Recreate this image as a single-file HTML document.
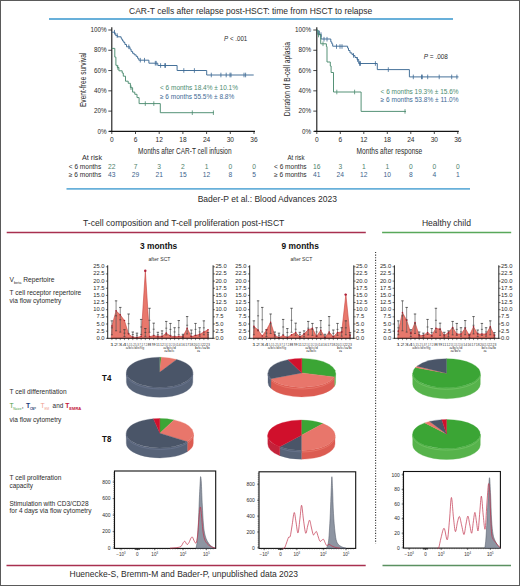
<!DOCTYPE html>
<html><head><meta charset="utf-8"><style>
html,body{margin:0;padding:0;background:#fff;}
svg{display:block;font-family:"Liberation Sans", sans-serif;}
</style></head><body>
<svg width="520" height="586" viewBox="0 0 520 586">
<rect x="0" y="0" width="520" height="586" fill="#fff"/>
<text x="129" y="13.8" font-size="9" fill="#2b2b2b" textLength="243.3" lengthAdjust="spacingAndGlyphs">CAR-T cells after relapse post-HSCT: time from HSCT to relapse</text>
<line x1="49" y1="19" x2="453" y2="19" stroke="#68b0da" stroke-width="1.8"/>
<line x1="111.8" y1="27.2" x2="111.8" y2="131.9" stroke="#151515" stroke-width="1.1"/>
<line x1="108.3" y1="131.4" x2="111.8" y2="131.4" stroke="#1a1a1a" stroke-width="0.8"/>
<text x="106.5" y="133.6" font-size="6.3" fill="#2b2b2b" text-anchor="end">0%</text>
<line x1="108.3" y1="111.12" x2="111.8" y2="111.12" stroke="#1a1a1a" stroke-width="0.8"/>
<text x="106.5" y="113.32000000000001" font-size="6.3" fill="#2b2b2b" text-anchor="end">20%</text>
<line x1="108.3" y1="90.84" x2="111.8" y2="90.84" stroke="#1a1a1a" stroke-width="0.8"/>
<text x="106.5" y="93.04" font-size="6.3" fill="#2b2b2b" text-anchor="end">40%</text>
<line x1="108.3" y1="70.56" x2="111.8" y2="70.56" stroke="#1a1a1a" stroke-width="0.8"/>
<text x="106.5" y="72.76" font-size="6.3" fill="#2b2b2b" text-anchor="end">60%</text>
<line x1="108.3" y1="50.28" x2="111.8" y2="50.28" stroke="#1a1a1a" stroke-width="0.8"/>
<text x="106.5" y="52.480000000000004" font-size="6.3" fill="#2b2b2b" text-anchor="end">80%</text>
<line x1="108.3" y1="30.0" x2="111.8" y2="30.0" stroke="#1a1a1a" stroke-width="0.8"/>
<text x="106.5" y="32.2" font-size="6.3" fill="#2b2b2b" text-anchor="end">100%</text>
<line x1="109.3" y1="131.4" x2="255.0" y2="131.4" stroke="#151515" stroke-width="1.1"/>
<line x1="111.8" y1="131.4" x2="111.8" y2="134.0" stroke="#1a1a1a" stroke-width="0.8"/>
<text x="111.8" y="142.4" font-size="6.6" fill="#2b2b2b" text-anchor="middle">0</text>
<line x1="135.5" y1="131.4" x2="135.5" y2="134.0" stroke="#1a1a1a" stroke-width="0.8"/>
<text x="135.5" y="142.4" font-size="6.6" fill="#2b2b2b" text-anchor="middle">6</text>
<line x1="159.2" y1="131.4" x2="159.2" y2="134.0" stroke="#1a1a1a" stroke-width="0.8"/>
<text x="159.2" y="142.4" font-size="6.6" fill="#2b2b2b" text-anchor="middle">12</text>
<line x1="182.89999999999998" y1="131.4" x2="182.89999999999998" y2="134.0" stroke="#1a1a1a" stroke-width="0.8"/>
<text x="182.89999999999998" y="142.4" font-size="6.6" fill="#2b2b2b" text-anchor="middle">18</text>
<line x1="206.6" y1="131.4" x2="206.6" y2="134.0" stroke="#1a1a1a" stroke-width="0.8"/>
<text x="206.6" y="142.4" font-size="6.6" fill="#2b2b2b" text-anchor="middle">24</text>
<line x1="230.3" y1="131.4" x2="230.3" y2="134.0" stroke="#1a1a1a" stroke-width="0.8"/>
<text x="230.3" y="142.4" font-size="6.6" fill="#2b2b2b" text-anchor="middle">30</text>
<line x1="254.0" y1="131.4" x2="254.0" y2="134.0" stroke="#1a1a1a" stroke-width="0.8"/>
<text x="254.0" y="142.4" font-size="6.6" fill="#2b2b2b" text-anchor="middle">36</text>
<text x="138.1" y="154.4" font-size="8.8" fill="#2b2b2b" textLength="93.5" lengthAdjust="spacingAndGlyphs">Months after CAR-T cell infusion</text>
<text transform="translate(86.3,79.8) rotate(-90)" x="0" y="0" font-size="8.4" fill="#2b2b2b" text-anchor="middle" textLength="54.5" lengthAdjust="spacingAndGlyphs">Event-free survival</text>
<path d="M111.80,32.20 L114.90,32.20 L114.90,33.70 L115.70,33.70 L115.70,35.60 L117.60,35.60 L117.60,36.80 L121.10,36.80 L121.10,38.30 L121.80,38.30 L121.80,39.50 L122.60,39.50 L122.60,41.00 L123.80,41.00 L123.80,42.50 L124.90,42.50 L124.90,44.50 L126.50,44.50 L126.50,46.80 L129.90,46.80 L129.90,49.10 L131.10,49.10 L131.10,51.40 L132.60,51.40 L132.60,53.30 L134.20,53.30 L134.20,54.80 L136.10,54.80 L136.10,56.40 L137.60,56.40 L137.60,58.30 L138.80,58.30 L138.80,60.20 L148.90,60.20 L148.90,63.20 L157.80,63.20 L157.80,65.50 L177.10,65.50 L177.10,70.50 L206.70,70.50 L206.70,75.00 L253.70,75.00" fill="none" stroke="#3d6a95" stroke-width="0.95" stroke-linejoin="miter"/>
<line x1="114.5" y1="29.900000000000002" x2="114.5" y2="34.5" stroke="#3d6a95" stroke-width="0.8"/>
<line x1="117.2" y1="33.300000000000004" x2="117.2" y2="37.9" stroke="#3d6a95" stroke-width="0.8"/>
<line x1="128.8" y1="44.5" x2="128.8" y2="49.099999999999994" stroke="#3d6a95" stroke-width="0.8"/>
<line x1="140.3" y1="57.900000000000006" x2="140.3" y2="62.5" stroke="#3d6a95" stroke-width="0.8"/>
<line x1="144.5" y1="57.900000000000006" x2="144.5" y2="62.5" stroke="#3d6a95" stroke-width="0.8"/>
<line x1="155.3" y1="60.900000000000006" x2="155.3" y2="65.5" stroke="#3d6a95" stroke-width="0.8"/>
<line x1="156.2" y1="60.900000000000006" x2="156.2" y2="65.5" stroke="#3d6a95" stroke-width="0.8"/>
<line x1="160.6" y1="63.2" x2="160.6" y2="67.8" stroke="#3d6a95" stroke-width="0.8"/>
<line x1="164.8" y1="63.2" x2="164.8" y2="67.8" stroke="#3d6a95" stroke-width="0.8"/>
<line x1="165.5" y1="63.2" x2="165.5" y2="67.8" stroke="#3d6a95" stroke-width="0.8"/>
<line x1="183.8" y1="68.2" x2="183.8" y2="72.8" stroke="#3d6a95" stroke-width="0.8"/>
<line x1="194.4" y1="68.2" x2="194.4" y2="72.8" stroke="#3d6a95" stroke-width="0.8"/>
<line x1="211.3" y1="72.7" x2="211.3" y2="77.3" stroke="#3d6a95" stroke-width="0.8"/>
<line x1="220.9" y1="72.7" x2="220.9" y2="77.3" stroke="#3d6a95" stroke-width="0.8"/>
<line x1="226.2" y1="72.7" x2="226.2" y2="77.3" stroke="#3d6a95" stroke-width="0.8"/>
<line x1="230" y1="72.7" x2="230" y2="77.3" stroke="#3d6a95" stroke-width="0.8"/>
<line x1="231" y1="72.7" x2="231" y2="77.3" stroke="#3d6a95" stroke-width="0.8"/>
<line x1="244" y1="72.7" x2="244" y2="77.3" stroke="#3d6a95" stroke-width="0.8"/>
<line x1="245.6" y1="72.7" x2="245.6" y2="77.3" stroke="#3d6a95" stroke-width="0.8"/>
<path d="M111.80,48.40 L114.80,48.40 L114.80,57.10 L115.90,57.10 L115.90,65.30 L117.30,65.30 L117.30,67.50 L118.90,67.50 L118.90,70.80 L122.20,70.80 L122.20,73.00 L123.30,73.00 L123.30,76.20 L125.50,76.20 L125.50,81.20 L128.20,81.20 L128.20,83.30 L130.40,83.30 L130.40,87.70 L132.60,87.70 L132.60,92.10 L134.80,92.10 L134.80,94.30 L137.00,94.30 L137.00,97.60 L139.10,97.60 L139.10,103.60 L160.30,103.60 L160.30,112.70 L213.80,112.70" fill="none" stroke="#4c8c70" stroke-width="0.95" stroke-linejoin="miter"/>
<line x1="117.8" y1="65.2" x2="117.8" y2="69.8" stroke="#4c8c70" stroke-width="0.8"/>
<line x1="131" y1="85.4" x2="131" y2="90.0" stroke="#4c8c70" stroke-width="0.8"/>
<line x1="145.3" y1="101.3" x2="145.3" y2="105.89999999999999" stroke="#4c8c70" stroke-width="0.8"/>
<line x1="153.8" y1="101.3" x2="153.8" y2="105.89999999999999" stroke="#4c8c70" stroke-width="0.8"/>
<line x1="192.3" y1="110.4" x2="192.3" y2="115.0" stroke="#4c8c70" stroke-width="0.8"/>
<line x1="213.4" y1="110.4" x2="213.4" y2="115.0" stroke="#4c8c70" stroke-width="0.8"/>
<text x="224.1" y="40.6" font-size="6.9" fill="#2b2b2b" textLength="23.2" lengthAdjust="spacingAndGlyphs"><tspan font-style="italic">P</tspan> &lt; .001</text>
<text x="160" y="89.5" font-size="6.9" fill="#4c8c70" textLength="78" lengthAdjust="spacingAndGlyphs">&lt; 6 months  18.4% ± 10.1%</text>
<text x="160" y="99.0" font-size="6.9" fill="#3d6a95" textLength="74.2" lengthAdjust="spacingAndGlyphs">≥ 6 months  55.5% ± 8.8%</text>
<text x="82" y="160" font-size="6.6" fill="#2b2b2b" textLength="20" lengthAdjust="spacingAndGlyphs">At risk</text>
<text x="68.8" y="168.5" font-size="6.6" fill="#2b2b2b" textLength="32.4" lengthAdjust="spacingAndGlyphs">&lt; 6 months</text>
<text x="68.8" y="176.6" font-size="6.6" fill="#2b2b2b" textLength="32.4" lengthAdjust="spacingAndGlyphs">≥ 6 months</text>
<text x="111.8" y="168.5" font-size="6.7" fill="#4f7f6c" text-anchor="middle">22</text>
<text x="111.8" y="176.7" font-size="6.7" fill="#3c5f8c" text-anchor="middle">43</text>
<text x="135.5" y="168.5" font-size="6.7" fill="#4f7f6c" text-anchor="middle">7</text>
<text x="135.5" y="176.7" font-size="6.7" fill="#3c5f8c" text-anchor="middle">29</text>
<text x="159.2" y="168.5" font-size="6.7" fill="#4f7f6c" text-anchor="middle">3</text>
<text x="159.2" y="176.7" font-size="6.7" fill="#3c5f8c" text-anchor="middle">21</text>
<text x="182.89999999999998" y="168.5" font-size="6.7" fill="#4f7f6c" text-anchor="middle">2</text>
<text x="182.89999999999998" y="176.7" font-size="6.7" fill="#3c5f8c" text-anchor="middle">15</text>
<text x="206.6" y="168.5" font-size="6.7" fill="#4f7f6c" text-anchor="middle">1</text>
<text x="206.6" y="176.7" font-size="6.7" fill="#3c5f8c" text-anchor="middle">12</text>
<text x="230.3" y="168.5" font-size="6.7" fill="#4f7f6c" text-anchor="middle">0</text>
<text x="230.3" y="176.7" font-size="6.7" fill="#3c5f8c" text-anchor="middle">8</text>
<text x="254.0" y="168.5" font-size="6.7" fill="#4f7f6c" text-anchor="middle">0</text>
<text x="254.0" y="176.7" font-size="6.7" fill="#3c5f8c" text-anchor="middle">5</text>
<line x1="316.8" y1="27.2" x2="316.8" y2="131.9" stroke="#151515" stroke-width="1.1"/>
<line x1="313.3" y1="131.4" x2="316.8" y2="131.4" stroke="#1a1a1a" stroke-width="0.8"/>
<text x="311.0" y="133.6" font-size="6.3" fill="#2b2b2b" text-anchor="end">0%</text>
<line x1="313.3" y1="111.12" x2="316.8" y2="111.12" stroke="#1a1a1a" stroke-width="0.8"/>
<text x="311.0" y="113.32000000000001" font-size="6.3" fill="#2b2b2b" text-anchor="end">20%</text>
<line x1="313.3" y1="90.84" x2="316.8" y2="90.84" stroke="#1a1a1a" stroke-width="0.8"/>
<text x="311.0" y="93.04" font-size="6.3" fill="#2b2b2b" text-anchor="end">40%</text>
<line x1="313.3" y1="70.56" x2="316.8" y2="70.56" stroke="#1a1a1a" stroke-width="0.8"/>
<text x="311.0" y="72.76" font-size="6.3" fill="#2b2b2b" text-anchor="end">60%</text>
<line x1="313.3" y1="50.28" x2="316.8" y2="50.28" stroke="#1a1a1a" stroke-width="0.8"/>
<text x="311.0" y="52.480000000000004" font-size="6.3" fill="#2b2b2b" text-anchor="end">80%</text>
<line x1="313.3" y1="30.0" x2="316.8" y2="30.0" stroke="#1a1a1a" stroke-width="0.8"/>
<text x="311.0" y="32.2" font-size="6.3" fill="#2b2b2b" text-anchor="end">100%</text>
<line x1="314.3" y1="131.4" x2="458.8" y2="131.4" stroke="#151515" stroke-width="1.1"/>
<line x1="316.8" y1="131.4" x2="316.8" y2="134.0" stroke="#1a1a1a" stroke-width="0.8"/>
<text x="316.8" y="142.4" font-size="6.6" fill="#2b2b2b" text-anchor="middle">0</text>
<line x1="340.3" y1="131.4" x2="340.3" y2="134.0" stroke="#1a1a1a" stroke-width="0.8"/>
<text x="340.3" y="142.4" font-size="6.6" fill="#2b2b2b" text-anchor="middle">6</text>
<line x1="363.8" y1="131.4" x2="363.8" y2="134.0" stroke="#1a1a1a" stroke-width="0.8"/>
<text x="363.8" y="142.4" font-size="6.6" fill="#2b2b2b" text-anchor="middle">12</text>
<line x1="387.3" y1="131.4" x2="387.3" y2="134.0" stroke="#1a1a1a" stroke-width="0.8"/>
<text x="387.3" y="142.4" font-size="6.6" fill="#2b2b2b" text-anchor="middle">18</text>
<line x1="410.8" y1="131.4" x2="410.8" y2="134.0" stroke="#1a1a1a" stroke-width="0.8"/>
<text x="410.8" y="142.4" font-size="6.6" fill="#2b2b2b" text-anchor="middle">24</text>
<line x1="434.3" y1="131.4" x2="434.3" y2="134.0" stroke="#1a1a1a" stroke-width="0.8"/>
<text x="434.3" y="142.4" font-size="6.6" fill="#2b2b2b" text-anchor="middle">30</text>
<line x1="457.8" y1="131.4" x2="457.8" y2="134.0" stroke="#1a1a1a" stroke-width="0.8"/>
<text x="457.8" y="142.4" font-size="6.6" fill="#2b2b2b" text-anchor="middle">36</text>
<text x="356.6" y="154.4" font-size="8.8" fill="#2b2b2b" textLength="65.7" lengthAdjust="spacingAndGlyphs">Months after response</text>
<text transform="translate(289.8,79.2) rotate(-90)" x="0" y="0" font-size="8.4" fill="#2b2b2b" text-anchor="middle" textLength="74.3" lengthAdjust="spacingAndGlyphs">Duration of B-cell aplasia</text>
<path d="M316.80,30.20 L318.00,30.20 L318.00,34.40 L321.10,34.40 L321.10,39.00 L330.80,39.00 L330.80,41.90 L331.80,41.90 L331.80,43.80 L332.70,43.80 L332.70,46.20 L347.60,46.20 L347.60,48.10 L348.50,48.10 L348.50,50.50 L350.00,50.50 L350.00,52.90 L351.90,52.90 L351.90,54.40 L353.30,54.40 L353.30,55.60 L355.00,55.60 L355.00,57.50 L357.00,57.50 L357.00,59.50 L358.70,59.50 L358.70,63.50 L377.30,63.50 L377.30,69.60 L409.40,69.60 L409.40,76.90 L458.50,76.90" fill="none" stroke="#3d6a95" stroke-width="0.95" stroke-linejoin="miter"/>
<line x1="318.2" y1="30.7" x2="318.2" y2="35.3" stroke="#3d6a95" stroke-width="0.8"/>
<line x1="319.5" y1="30.7" x2="319.5" y2="35.3" stroke="#3d6a95" stroke-width="0.8"/>
<line x1="321" y1="32.300000000000004" x2="321" y2="36.9" stroke="#3d6a95" stroke-width="0.8"/>
<line x1="324" y1="36.900000000000006" x2="324" y2="41.5" stroke="#3d6a95" stroke-width="0.8"/>
<line x1="327" y1="36.900000000000006" x2="327" y2="41.5" stroke="#3d6a95" stroke-width="0.8"/>
<line x1="336.5" y1="44.2" x2="336.5" y2="48.8" stroke="#3d6a95" stroke-width="0.8"/>
<line x1="340" y1="44.2" x2="340" y2="48.8" stroke="#3d6a95" stroke-width="0.8"/>
<line x1="342" y1="44.2" x2="342" y2="48.8" stroke="#3d6a95" stroke-width="0.8"/>
<line x1="353.5" y1="53.1" x2="353.5" y2="57.699999999999996" stroke="#3d6a95" stroke-width="0.8"/>
<line x1="357.5" y1="57.2" x2="357.5" y2="61.8" stroke="#3d6a95" stroke-width="0.8"/>
<line x1="359.5" y1="61.2" x2="359.5" y2="65.8" stroke="#3d6a95" stroke-width="0.8"/>
<line x1="360.5" y1="61.2" x2="360.5" y2="65.8" stroke="#3d6a95" stroke-width="0.8"/>
<line x1="375.4" y1="61.2" x2="375.4" y2="65.8" stroke="#3d6a95" stroke-width="0.8"/>
<line x1="388.3" y1="67.3" x2="388.3" y2="71.89999999999999" stroke="#3d6a95" stroke-width="0.8"/>
<line x1="413.3" y1="74.60000000000001" x2="413.3" y2="79.2" stroke="#3d6a95" stroke-width="0.8"/>
<line x1="421.5" y1="74.60000000000001" x2="421.5" y2="79.2" stroke="#3d6a95" stroke-width="0.8"/>
<line x1="422.3" y1="74.60000000000001" x2="422.3" y2="79.2" stroke="#3d6a95" stroke-width="0.8"/>
<line x1="427.7" y1="74.60000000000001" x2="427.7" y2="79.2" stroke="#3d6a95" stroke-width="0.8"/>
<line x1="439.2" y1="74.60000000000001" x2="439.2" y2="79.2" stroke="#3d6a95" stroke-width="0.8"/>
<line x1="451.7" y1="74.60000000000001" x2="451.7" y2="79.2" stroke="#3d6a95" stroke-width="0.8"/>
<line x1="456.9" y1="74.60000000000001" x2="456.9" y2="79.2" stroke="#3d6a95" stroke-width="0.8"/>
<path d="M316.80,30.20 L318.00,30.20 L318.00,34.40 L320.70,34.40 L320.70,43.80 L326.40,43.80 L326.40,46.50 L327.00,46.50 L327.00,62.00 L330.30,62.00 L330.30,66.00 L331.10,66.00 L331.10,72.50 L333.50,72.50 L333.50,92.00 L361.10,92.00 L361.10,111.40 L406.00,111.40" fill="none" stroke="#4c8c70" stroke-width="0.95" stroke-linejoin="miter"/>
<line x1="318.5" y1="32.7" x2="318.5" y2="37.3" stroke="#4c8c70" stroke-width="0.8"/>
<line x1="323" y1="41.5" x2="323" y2="46.099999999999994" stroke="#4c8c70" stroke-width="0.8"/>
<line x1="336.8" y1="89.7" x2="336.8" y2="94.3" stroke="#4c8c70" stroke-width="0.8"/>
<line x1="354.6" y1="89.7" x2="354.6" y2="94.3" stroke="#4c8c70" stroke-width="0.8"/>
<line x1="405" y1="109.10000000000001" x2="405" y2="113.7" stroke="#4c8c70" stroke-width="0.8"/>
<text x="423.8" y="58.8" font-size="6.9" fill="#2b2b2b" textLength="24.1" lengthAdjust="spacingAndGlyphs"><tspan font-style="italic">P</tspan> = .008</text>
<text x="380.6" y="93.6" font-size="6.9" fill="#4c8c70" textLength="77.9" lengthAdjust="spacingAndGlyphs">&lt; 6 months  19.3% ± 15.6%</text>
<text x="380.6" y="102.0" font-size="6.9" fill="#3d6a95" textLength="77.9" lengthAdjust="spacingAndGlyphs">≥ 6 months  53.8% ± 11.0%</text>
<text x="287.5" y="159.5" font-size="6.6" fill="#2b2b2b" textLength="17" lengthAdjust="spacingAndGlyphs">At risk</text>
<text x="274" y="168.5" font-size="6.6" fill="#2b2b2b" textLength="32.6" lengthAdjust="spacingAndGlyphs">&lt; 6 months</text>
<text x="274" y="176.8" font-size="6.6" fill="#2b2b2b" textLength="32.6" lengthAdjust="spacingAndGlyphs">≥ 6 months</text>
<text x="316.8" y="168.5" font-size="6.7" fill="#4f7f6c" text-anchor="middle">16</text>
<text x="316.8" y="176.7" font-size="6.7" fill="#3c5f8c" text-anchor="middle">41</text>
<text x="340.3" y="168.5" font-size="6.7" fill="#4f7f6c" text-anchor="middle">3</text>
<text x="340.3" y="176.7" font-size="6.7" fill="#3c5f8c" text-anchor="middle">24</text>
<text x="363.8" y="168.5" font-size="6.7" fill="#4f7f6c" text-anchor="middle">1</text>
<text x="363.8" y="176.7" font-size="6.7" fill="#3c5f8c" text-anchor="middle">12</text>
<text x="387.3" y="168.5" font-size="6.7" fill="#4f7f6c" text-anchor="middle">1</text>
<text x="387.3" y="176.7" font-size="6.7" fill="#3c5f8c" text-anchor="middle">10</text>
<text x="410.8" y="168.5" font-size="6.7" fill="#4f7f6c" text-anchor="middle">0</text>
<text x="410.8" y="176.7" font-size="6.7" fill="#3c5f8c" text-anchor="middle">8</text>
<text x="434.3" y="168.5" font-size="6.7" fill="#4f7f6c" text-anchor="middle">0</text>
<text x="434.3" y="176.7" font-size="6.7" fill="#3c5f8c" text-anchor="middle">4</text>
<text x="457.8" y="168.5" font-size="6.7" fill="#4f7f6c" text-anchor="middle">0</text>
<text x="457.8" y="176.7" font-size="6.7" fill="#3c5f8c" text-anchor="middle">1</text>
<line x1="66.5" y1="188.9" x2="470" y2="188.9" stroke="#68b0da" stroke-width="1.8"/>
<text x="197.7" y="201.7" font-size="8.6" fill="#2b2b2b" textLength="139.2" lengthAdjust="spacingAndGlyphs">Bader-P et al.: Blood Advances 2023</text>
<text x="83" y="225.8" font-size="8.6" fill="#2b2b2b" textLength="201.4" lengthAdjust="spacingAndGlyphs">T-cell composition and T-cell proliferation post-HSCT</text>
<line x1="6.7" y1="232.5" x2="365.8" y2="232.5" stroke="#a8304f" stroke-width="1.6"/>
<text x="421.9" y="226" font-size="8.6" fill="#2b2b2b" textLength="49" lengthAdjust="spacingAndGlyphs">Healthy child</text>
<line x1="382.1" y1="232.5" x2="511.2" y2="232.5" stroke="#58a85a" stroke-width="1.6"/>
<text x="140" y="248.5" font-size="8.6" fill="#111" font-weight="bold" textLength="37.2" lengthAdjust="spacingAndGlyphs">3 months</text>
<text x="281.5" y="248.8" font-size="8.6" fill="#111" font-weight="bold" textLength="37.4" lengthAdjust="spacingAndGlyphs">9 months</text>
<text x="148.5" y="261.2" font-size="4.6" fill="#333" textLength="22" lengthAdjust="spacingAndGlyphs">after SCT</text>
<text x="290.5" y="261.2" font-size="4.6" fill="#333" textLength="21.8" lengthAdjust="spacingAndGlyphs">after SCT</text>
<line x1="375.6" y1="252" x2="375.6" y2="543.6" stroke="#333" stroke-width="1.1" stroke-dasharray="1.1,1.5"/>
<text x="9.5" y="281.8" font-size="6.4" fill="#2b2b2b" textLength="45" lengthAdjust="spacingAndGlyphs">V<tspan font-size="3.6" dy="2.3">beta</tspan><tspan dy="-2.3"> Repertoire</tspan></text>
<text x="9.5" y="294.9" font-size="6.3" fill="#2b2b2b" textLength="71.8" lengthAdjust="spacingAndGlyphs">T cell receptor repertoire</text>
<text x="9.5" y="302.7" font-size="6.3" fill="#2b2b2b" textLength="51.9" lengthAdjust="spacingAndGlyphs">via flow cytometry</text>
<text x="102.1" y="380.6" font-size="8.2" fill="#111" font-weight="bold" textLength="9.2" lengthAdjust="spacingAndGlyphs">T4</text>
<text x="102.1" y="441.5" font-size="8.2" fill="#111" font-weight="bold" textLength="9.2" lengthAdjust="spacingAndGlyphs">T8</text>
<text x="9.5" y="393.5" font-size="6.3" fill="#2b2b2b" textLength="57.1" lengthAdjust="spacingAndGlyphs">T cell differentiation</text>
<text x="9.5" y="407.7" font-size="6.8" fill="#4a9e48">T</text>
<text x="13.3" y="410.09999999999997" font-size="3.9" fill="#4a9e48" textLength="8.2" lengthAdjust="spacingAndGlyphs">Naive</text>
<text x="21.7" y="407.7" font-size="6.8" fill="#2b2b2b">,</text>
<text x="25.9" y="407.7" font-size="6.8" fill="#1a3d7a" font-weight="bold">T</text>
<text x="29.9" y="410.09999999999997" font-size="4.0" fill="#1a3d7a" font-weight="bold" textLength="4.6" lengthAdjust="spacingAndGlyphs">CM</text>
<text x="34.6" y="407.7" font-size="6.8" fill="#2b2b2b">,</text>
<text x="40.5" y="407.7" font-size="6.8" fill="#efa090">T</text>
<text x="44.4" y="410.09999999999997" font-size="3.9" fill="#efa090" textLength="4.8" lengthAdjust="spacingAndGlyphs">EM</text>
<text x="52.6" y="407.7" font-size="6.8" fill="#2b2b2b" textLength="10.6" lengthAdjust="spacingAndGlyphs">and</text>
<text x="65.2" y="407.7" font-size="6.8" fill="#c4143c" font-weight="bold">T</text>
<text x="69.3" y="410.09999999999997" font-size="4.0" fill="#c4143c" font-weight="bold" textLength="12" lengthAdjust="spacingAndGlyphs">EMRA</text>
<text x="9.5" y="421.5" font-size="6.3" fill="#2b2b2b" textLength="51.9" lengthAdjust="spacingAndGlyphs">via flow cytometry</text>
<text x="9.5" y="480.4" font-size="6.3" fill="#2b2b2b" textLength="51.9" lengthAdjust="spacingAndGlyphs">T cell proliferation</text>
<text x="9.5" y="488.0" font-size="6.3" fill="#2b2b2b" textLength="23.4" lengthAdjust="spacingAndGlyphs">capacity</text>
<text x="9.5" y="505.8" font-size="6.3" fill="#2b2b2b" textLength="79.1" lengthAdjust="spacingAndGlyphs">Stimulation with CD3/CD28</text>
<text x="9.5" y="513.3" font-size="6.3" fill="#2b2b2b" textLength="82" lengthAdjust="spacingAndGlyphs">for 4 days via flow cytometry</text>
<line x1="6.5" y1="565.5" x2="365.7" y2="565.5" stroke="#a8304f" stroke-width="1.6"/>
<line x1="382.5" y1="565.5" x2="511" y2="565.5" stroke="#5a9060" stroke-width="1.5"/>
<text x="69.5" y="577" font-size="8.6" fill="#2b2b2b" textLength="228.5" lengthAdjust="spacingAndGlyphs">Huenecke-S, Bremm-M and Bader-P, unpublished data 2023</text>
<path d="M111.30,338.30 L111.90,326.00 L116.08,310.84 L120.26,314.85 L124.44,320.57 L128.62,334.01 L132.80,337.16 L136.98,337.44 L141.16,336.30 L145.34,271.09 L149.52,336.58 L153.70,335.73 L157.88,336.30 L162.06,336.30 L166.24,333.15 L170.42,336.01 L174.60,336.87 L178.78,336.30 L182.96,336.30 L187.14,328.29 L191.32,336.58 L195.50,335.44 L199.68,334.30 L203.86,332.01 L208.04,329.72 L208.44,338.30Z" fill="#e8786c" stroke="#c8413e" stroke-width="0.6"/>
<line x1="111.9" y1="334.81080000000003" x2="111.9" y2="320.85400000000004" stroke="#5a5a5a" stroke-width="0.7"/>
<line x1="110.7" y1="320.85400000000004" x2="113.10000000000001" y2="320.85400000000004" stroke="#333" stroke-width="0.75"/>
<line x1="110.9" y1="327.8324" x2="112.9" y2="327.8324" stroke="#333" stroke-width="0.6"/>
<line x1="110.9" y1="334.81080000000003" x2="112.9" y2="334.81080000000003" stroke="#333" stroke-width="0.6"/>
<line x1="116.08000000000001" y1="330.8068" x2="116.08000000000001" y2="300.834" stroke="#5a5a5a" stroke-width="0.7"/>
<line x1="114.88000000000001" y1="300.834" x2="117.28000000000002" y2="300.834" stroke="#333" stroke-width="0.75"/>
<line x1="115.08000000000001" y1="315.8204" x2="117.08000000000001" y2="315.8204" stroke="#333" stroke-width="0.6"/>
<line x1="115.08000000000001" y1="330.8068" x2="117.08000000000001" y2="330.8068" stroke="#333" stroke-width="0.6"/>
<line x1="120.26" y1="332.1224" x2="120.26" y2="307.41200000000003" stroke="#5a5a5a" stroke-width="0.7"/>
<line x1="119.06" y1="307.41200000000003" x2="121.46000000000001" y2="307.41200000000003" stroke="#333" stroke-width="0.75"/>
<line x1="119.26" y1="319.7672" x2="121.26" y2="319.7672" stroke="#333" stroke-width="0.6"/>
<line x1="119.26" y1="332.1224" x2="121.26" y2="332.1224" stroke="#333" stroke-width="0.6"/>
<line x1="124.44" y1="336.584" x2="124.44" y2="329.72" stroke="#5a5a5a" stroke-width="0.7"/>
<line x1="123.24" y1="329.72" x2="125.64" y2="329.72" stroke="#333" stroke-width="0.75"/>
<line x1="123.44" y1="333.152" x2="125.44" y2="333.152" stroke="#333" stroke-width="0.6"/>
<line x1="123.44" y1="336.584" x2="125.44" y2="336.584" stroke="#333" stroke-width="0.6"/>
<line x1="128.62" y1="333.438" x2="128.62" y2="313.99" stroke="#5a5a5a" stroke-width="0.7"/>
<line x1="127.42" y1="313.99" x2="129.82" y2="313.99" stroke="#333" stroke-width="0.75"/>
<line x1="127.62" y1="323.714" x2="129.62" y2="323.714" stroke="#333" stroke-width="0.6"/>
<line x1="127.62" y1="333.438" x2="129.62" y2="333.438" stroke="#333" stroke-width="0.6"/>
<line x1="132.8" y1="337.0416" x2="132.8" y2="332.00800000000004" stroke="#5a5a5a" stroke-width="0.7"/>
<line x1="131.60000000000002" y1="332.00800000000004" x2="134.0" y2="332.00800000000004" stroke="#333" stroke-width="0.75"/>
<line x1="131.8" y1="334.5248" x2="133.8" y2="334.5248" stroke="#333" stroke-width="0.6"/>
<line x1="131.8" y1="337.0416" x2="133.8" y2="337.0416" stroke="#333" stroke-width="0.6"/>
<line x1="136.98000000000002" y1="337.2704" x2="136.98000000000002" y2="333.152" stroke="#5a5a5a" stroke-width="0.7"/>
<line x1="135.78000000000003" y1="333.152" x2="138.18" y2="333.152" stroke="#333" stroke-width="0.75"/>
<line x1="135.98000000000002" y1="335.2112" x2="137.98000000000002" y2="335.2112" stroke="#333" stroke-width="0.6"/>
<line x1="135.98000000000002" y1="337.2704" x2="137.98000000000002" y2="337.2704" stroke="#333" stroke-width="0.6"/>
<line x1="141.16" y1="334.5248" x2="141.16" y2="319.42400000000004" stroke="#5a5a5a" stroke-width="0.7"/>
<line x1="139.96" y1="319.42400000000004" x2="142.35999999999999" y2="319.42400000000004" stroke="#333" stroke-width="0.75"/>
<line x1="140.16" y1="326.9744" x2="142.16" y2="326.9744" stroke="#333" stroke-width="0.6"/>
<line x1="140.16" y1="334.5248" x2="142.16" y2="334.5248" stroke="#333" stroke-width="0.6"/>
<line x1="145.34" y1="336.3552" x2="145.34" y2="328.576" stroke="#5a5a5a" stroke-width="0.7"/>
<line x1="144.14000000000001" y1="328.576" x2="146.54" y2="328.576" stroke="#333" stroke-width="0.75"/>
<line x1="144.34" y1="332.4656" x2="146.34" y2="332.4656" stroke="#333" stroke-width="0.6"/>
<line x1="144.34" y1="336.3552" x2="146.34" y2="336.3552" stroke="#333" stroke-width="0.6"/>
<line x1="149.52" y1="332.294" x2="149.52" y2="308.27000000000004" stroke="#5a5a5a" stroke-width="0.7"/>
<line x1="148.32000000000002" y1="308.27000000000004" x2="150.72" y2="308.27000000000004" stroke="#333" stroke-width="0.75"/>
<line x1="148.52" y1="320.28200000000004" x2="150.52" y2="320.28200000000004" stroke="#333" stroke-width="0.6"/>
<line x1="148.52" y1="332.294" x2="150.52" y2="332.294" stroke="#333" stroke-width="0.6"/>
<line x1="153.7" y1="335.2684" x2="153.7" y2="323.142" stroke="#5a5a5a" stroke-width="0.7"/>
<line x1="152.5" y1="323.142" x2="154.89999999999998" y2="323.142" stroke="#333" stroke-width="0.75"/>
<line x1="152.7" y1="329.2052" x2="154.7" y2="329.2052" stroke="#333" stroke-width="0.6"/>
<line x1="152.7" y1="335.2684" x2="154.7" y2="335.2684" stroke="#333" stroke-width="0.6"/>
<line x1="157.88" y1="337.0988" x2="157.88" y2="332.294" stroke="#5a5a5a" stroke-width="0.7"/>
<line x1="156.68" y1="332.294" x2="159.07999999999998" y2="332.294" stroke="#333" stroke-width="0.75"/>
<line x1="156.88" y1="334.69640000000004" x2="158.88" y2="334.69640000000004" stroke="#333" stroke-width="0.6"/>
<line x1="156.88" y1="337.0988" x2="158.88" y2="337.0988" stroke="#333" stroke-width="0.6"/>
<line x1="162.06" y1="336.81280000000004" x2="162.06" y2="330.86400000000003" stroke="#5a5a5a" stroke-width="0.7"/>
<line x1="160.86" y1="330.86400000000003" x2="163.26" y2="330.86400000000003" stroke="#333" stroke-width="0.75"/>
<line x1="161.06" y1="333.83840000000004" x2="163.06" y2="333.83840000000004" stroke="#333" stroke-width="0.6"/>
<line x1="161.06" y1="336.81280000000004" x2="163.06" y2="336.81280000000004" stroke="#333" stroke-width="0.6"/>
<line x1="166.24" y1="334.9252" x2="166.24" y2="321.426" stroke="#5a5a5a" stroke-width="0.7"/>
<line x1="165.04000000000002" y1="321.426" x2="167.44" y2="321.426" stroke="#333" stroke-width="0.75"/>
<line x1="165.24" y1="328.17560000000003" x2="167.24" y2="328.17560000000003" stroke="#333" stroke-width="0.6"/>
<line x1="165.24" y1="334.9252" x2="167.24" y2="334.9252" stroke="#333" stroke-width="0.6"/>
<line x1="170.42000000000002" y1="335.3256" x2="170.42000000000002" y2="323.428" stroke="#5a5a5a" stroke-width="0.7"/>
<line x1="169.22000000000003" y1="323.428" x2="171.62" y2="323.428" stroke="#333" stroke-width="0.75"/>
<line x1="169.42000000000002" y1="329.3768" x2="171.42000000000002" y2="329.3768" stroke="#333" stroke-width="0.6"/>
<line x1="169.42000000000002" y1="335.3256" x2="171.42000000000002" y2="335.3256" stroke="#333" stroke-width="0.6"/>
<line x1="174.6" y1="336.1836" x2="174.6" y2="327.718" stroke="#5a5a5a" stroke-width="0.7"/>
<line x1="173.4" y1="327.718" x2="175.79999999999998" y2="327.718" stroke="#333" stroke-width="0.75"/>
<line x1="173.6" y1="331.9508" x2="175.6" y2="331.9508" stroke="#333" stroke-width="0.6"/>
<line x1="173.6" y1="336.1836" x2="175.6" y2="336.1836" stroke="#333" stroke-width="0.6"/>
<line x1="178.78" y1="334.7536" x2="178.78" y2="320.568" stroke="#5a5a5a" stroke-width="0.7"/>
<line x1="177.58" y1="320.568" x2="179.98" y2="320.568" stroke="#333" stroke-width="0.75"/>
<line x1="177.78" y1="327.6608" x2="179.78" y2="327.6608" stroke="#333" stroke-width="0.6"/>
<line x1="177.78" y1="334.7536" x2="179.78" y2="334.7536" stroke="#333" stroke-width="0.6"/>
<line x1="182.96" y1="337.49920000000003" x2="182.96" y2="334.296" stroke="#5a5a5a" stroke-width="0.7"/>
<line x1="181.76000000000002" y1="334.296" x2="184.16" y2="334.296" stroke="#333" stroke-width="0.75"/>
<line x1="181.96" y1="335.8976" x2="183.96" y2="335.8976" stroke="#333" stroke-width="0.6"/>
<line x1="181.96" y1="337.49920000000003" x2="183.96" y2="337.49920000000003" stroke="#333" stroke-width="0.6"/>
<line x1="187.14" y1="333.9528" x2="187.14" y2="316.564" stroke="#5a5a5a" stroke-width="0.7"/>
<line x1="185.94" y1="316.564" x2="188.33999999999997" y2="316.564" stroke="#333" stroke-width="0.75"/>
<line x1="186.14" y1="325.2584" x2="188.14" y2="325.2584" stroke="#333" stroke-width="0.6"/>
<line x1="186.14" y1="333.9528" x2="188.14" y2="333.9528" stroke="#333" stroke-width="0.6"/>
<line x1="191.32" y1="336.6412" x2="191.32" y2="330.00600000000003" stroke="#5a5a5a" stroke-width="0.7"/>
<line x1="190.12" y1="330.00600000000003" x2="192.51999999999998" y2="330.00600000000003" stroke="#333" stroke-width="0.75"/>
<line x1="190.32" y1="333.3236" x2="192.32" y2="333.3236" stroke="#333" stroke-width="0.6"/>
<line x1="190.32" y1="336.6412" x2="192.32" y2="336.6412" stroke="#333" stroke-width="0.6"/>
<line x1="195.5" y1="335.3256" x2="195.5" y2="323.428" stroke="#5a5a5a" stroke-width="0.7"/>
<line x1="194.3" y1="323.428" x2="196.7" y2="323.428" stroke="#333" stroke-width="0.75"/>
<line x1="194.5" y1="329.3768" x2="196.5" y2="329.3768" stroke="#333" stroke-width="0.6"/>
<line x1="194.5" y1="335.3256" x2="196.5" y2="335.3256" stroke="#333" stroke-width="0.6"/>
<line x1="199.68" y1="336.1836" x2="199.68" y2="327.718" stroke="#5a5a5a" stroke-width="0.7"/>
<line x1="198.48000000000002" y1="327.718" x2="200.88" y2="327.718" stroke="#333" stroke-width="0.75"/>
<line x1="198.68" y1="331.9508" x2="200.68" y2="331.9508" stroke="#333" stroke-width="0.6"/>
<line x1="198.68" y1="336.1836" x2="200.68" y2="336.1836" stroke="#333" stroke-width="0.6"/>
<line x1="203.86" y1="334.81080000000003" x2="203.86" y2="320.85400000000004" stroke="#5a5a5a" stroke-width="0.7"/>
<line x1="202.66000000000003" y1="320.85400000000004" x2="205.06" y2="320.85400000000004" stroke="#333" stroke-width="0.75"/>
<line x1="202.86" y1="327.8324" x2="204.86" y2="327.8324" stroke="#333" stroke-width="0.6"/>
<line x1="202.86" y1="334.81080000000003" x2="204.86" y2="334.81080000000003" stroke="#333" stroke-width="0.6"/>
<line x1="208.04" y1="337.156" x2="208.04" y2="332.58" stroke="#5a5a5a" stroke-width="0.7"/>
<line x1="206.84" y1="332.58" x2="209.23999999999998" y2="332.58" stroke="#333" stroke-width="0.75"/>
<line x1="207.04" y1="334.868" x2="209.04" y2="334.868" stroke="#333" stroke-width="0.6"/>
<line x1="207.04" y1="337.156" x2="209.04" y2="337.156" stroke="#333" stroke-width="0.6"/>
<circle cx="111.90" cy="326.00" r="0.8" fill="#a81c2c"/>
<circle cx="116.08" cy="310.84" r="0.8" fill="#a81c2c"/>
<circle cx="120.26" cy="314.85" r="0.8" fill="#a81c2c"/>
<circle cx="124.44" cy="320.57" r="0.8" fill="#a81c2c"/>
<circle cx="128.62" cy="334.01" r="0.8" fill="#a81c2c"/>
<circle cx="132.80" cy="337.16" r="0.8" fill="#a81c2c"/>
<circle cx="136.98" cy="337.44" r="0.8" fill="#a81c2c"/>
<circle cx="141.16" cy="336.30" r="0.8" fill="#a81c2c"/>
<circle cx="145.34" cy="271.09" r="0.8" fill="#a81c2c"/>
<circle cx="149.52" cy="336.58" r="0.8" fill="#a81c2c"/>
<circle cx="153.70" cy="335.73" r="0.8" fill="#a81c2c"/>
<circle cx="157.88" cy="336.30" r="0.8" fill="#a81c2c"/>
<circle cx="162.06" cy="336.30" r="0.8" fill="#a81c2c"/>
<circle cx="166.24" cy="333.15" r="0.8" fill="#a81c2c"/>
<circle cx="170.42" cy="336.01" r="0.8" fill="#a81c2c"/>
<circle cx="174.60" cy="336.87" r="0.8" fill="#a81c2c"/>
<circle cx="178.78" cy="336.30" r="0.8" fill="#a81c2c"/>
<circle cx="182.96" cy="336.30" r="0.8" fill="#a81c2c"/>
<circle cx="187.14" cy="328.29" r="0.8" fill="#a81c2c"/>
<circle cx="191.32" cy="336.58" r="0.8" fill="#a81c2c"/>
<circle cx="195.50" cy="335.44" r="0.8" fill="#a81c2c"/>
<circle cx="199.68" cy="334.30" r="0.8" fill="#a81c2c"/>
<circle cx="203.86" cy="332.01" r="0.8" fill="#a81c2c"/>
<circle cx="208.04" cy="329.72" r="0.8" fill="#a81c2c"/>
<circle cx="145.3" cy="270.8" r="1.2" fill="#b0203a"/>
<line x1="107.7" y1="265.3" x2="107.7" y2="338.90000000000003" stroke="#111" stroke-width="0.9"/>
<line x1="213.1" y1="265.3" x2="213.1" y2="338.90000000000003" stroke="#111" stroke-width="0.9"/>
<line x1="107.7" y1="338.3" x2="213.1" y2="338.3" stroke="#111" stroke-width="0.9"/>
<line x1="105.9" y1="338.3" x2="107.7" y2="338.3" stroke="#111" stroke-width="0.6"/>
<line x1="213.1" y1="338.3" x2="214.9" y2="338.3" stroke="#111" stroke-width="0.6"/>
<text x="104.5" y="339.8" font-size="5.8" fill="#2a2a2a" text-anchor="end">0.0</text>
<text x="215.4" y="339.8" font-size="5.8" fill="#2a2a2a">0.0</text>
<line x1="105.9" y1="331.15000000000003" x2="107.7" y2="331.15000000000003" stroke="#111" stroke-width="0.6"/>
<line x1="213.1" y1="331.15000000000003" x2="214.9" y2="331.15000000000003" stroke="#111" stroke-width="0.6"/>
<text x="104.5" y="332.65000000000003" font-size="5.8" fill="#2a2a2a" text-anchor="end">2.5</text>
<text x="215.4" y="332.65000000000003" font-size="5.8" fill="#2a2a2a">2.5</text>
<line x1="105.9" y1="324.0" x2="107.7" y2="324.0" stroke="#111" stroke-width="0.6"/>
<line x1="213.1" y1="324.0" x2="214.9" y2="324.0" stroke="#111" stroke-width="0.6"/>
<text x="104.5" y="325.5" font-size="5.8" fill="#2a2a2a" text-anchor="end">5.0</text>
<text x="215.4" y="325.5" font-size="5.8" fill="#2a2a2a">5.0</text>
<line x1="105.9" y1="316.85" x2="107.7" y2="316.85" stroke="#111" stroke-width="0.6"/>
<line x1="213.1" y1="316.85" x2="214.9" y2="316.85" stroke="#111" stroke-width="0.6"/>
<text x="104.5" y="318.35" font-size="5.8" fill="#2a2a2a" text-anchor="end">7.5</text>
<text x="215.4" y="318.35" font-size="5.8" fill="#2a2a2a">7.5</text>
<line x1="105.9" y1="309.7" x2="107.7" y2="309.7" stroke="#111" stroke-width="0.6"/>
<line x1="213.1" y1="309.7" x2="214.9" y2="309.7" stroke="#111" stroke-width="0.6"/>
<text x="104.5" y="311.2" font-size="5.8" fill="#2a2a2a" text-anchor="end">10.0</text>
<text x="215.4" y="311.2" font-size="5.8" fill="#2a2a2a">10.0</text>
<line x1="105.9" y1="302.55" x2="107.7" y2="302.55" stroke="#111" stroke-width="0.6"/>
<line x1="213.1" y1="302.55" x2="214.9" y2="302.55" stroke="#111" stroke-width="0.6"/>
<text x="104.5" y="304.05" font-size="5.8" fill="#2a2a2a" text-anchor="end">12.5</text>
<text x="215.4" y="304.05" font-size="5.8" fill="#2a2a2a">12.5</text>
<line x1="105.9" y1="295.40000000000003" x2="107.7" y2="295.40000000000003" stroke="#111" stroke-width="0.6"/>
<line x1="213.1" y1="295.40000000000003" x2="214.9" y2="295.40000000000003" stroke="#111" stroke-width="0.6"/>
<text x="104.5" y="296.90000000000003" font-size="5.8" fill="#2a2a2a" text-anchor="end">15.0</text>
<text x="215.4" y="296.90000000000003" font-size="5.8" fill="#2a2a2a">15.0</text>
<line x1="105.9" y1="288.25" x2="107.7" y2="288.25" stroke="#111" stroke-width="0.6"/>
<line x1="213.1" y1="288.25" x2="214.9" y2="288.25" stroke="#111" stroke-width="0.6"/>
<text x="104.5" y="289.75" font-size="5.8" fill="#2a2a2a" text-anchor="end">17.5</text>
<text x="215.4" y="289.75" font-size="5.8" fill="#2a2a2a">17.5</text>
<line x1="105.9" y1="281.1" x2="107.7" y2="281.1" stroke="#111" stroke-width="0.6"/>
<line x1="213.1" y1="281.1" x2="214.9" y2="281.1" stroke="#111" stroke-width="0.6"/>
<text x="104.5" y="282.6" font-size="5.8" fill="#2a2a2a" text-anchor="end">20.0</text>
<text x="215.4" y="282.6" font-size="5.8" fill="#2a2a2a">20.0</text>
<line x1="105.9" y1="273.95000000000005" x2="107.7" y2="273.95000000000005" stroke="#111" stroke-width="0.6"/>
<line x1="213.1" y1="273.95000000000005" x2="214.9" y2="273.95000000000005" stroke="#111" stroke-width="0.6"/>
<text x="104.5" y="275.45000000000005" font-size="5.8" fill="#2a2a2a" text-anchor="end">22.5</text>
<text x="215.4" y="275.45000000000005" font-size="5.8" fill="#2a2a2a">22.5</text>
<line x1="105.9" y1="266.8" x2="107.7" y2="266.8" stroke="#111" stroke-width="0.6"/>
<line x1="213.1" y1="266.8" x2="214.9" y2="266.8" stroke="#111" stroke-width="0.6"/>
<text x="104.5" y="268.3" font-size="5.8" fill="#2a2a2a" text-anchor="end">25.0</text>
<text x="215.4" y="268.3" font-size="5.8" fill="#2a2a2a">25.0</text>
<line x1="111.9" y1="338.3" x2="111.9" y2="340.1" stroke="#111" stroke-width="0.5"/>
<line x1="116.08000000000001" y1="338.3" x2="116.08000000000001" y2="340.1" stroke="#111" stroke-width="0.5"/>
<line x1="120.26" y1="338.3" x2="120.26" y2="340.1" stroke="#111" stroke-width="0.5"/>
<line x1="124.44" y1="338.3" x2="124.44" y2="340.1" stroke="#111" stroke-width="0.5"/>
<line x1="128.62" y1="338.3" x2="128.62" y2="340.1" stroke="#111" stroke-width="0.5"/>
<line x1="132.8" y1="338.3" x2="132.8" y2="340.1" stroke="#111" stroke-width="0.5"/>
<line x1="136.98000000000002" y1="338.3" x2="136.98000000000002" y2="340.1" stroke="#111" stroke-width="0.5"/>
<line x1="141.16" y1="338.3" x2="141.16" y2="340.1" stroke="#111" stroke-width="0.5"/>
<line x1="145.34" y1="338.3" x2="145.34" y2="340.1" stroke="#111" stroke-width="0.5"/>
<line x1="149.52" y1="338.3" x2="149.52" y2="340.1" stroke="#111" stroke-width="0.5"/>
<line x1="153.7" y1="338.3" x2="153.7" y2="340.1" stroke="#111" stroke-width="0.5"/>
<line x1="157.88" y1="338.3" x2="157.88" y2="340.1" stroke="#111" stroke-width="0.5"/>
<line x1="162.06" y1="338.3" x2="162.06" y2="340.1" stroke="#111" stroke-width="0.5"/>
<line x1="166.24" y1="338.3" x2="166.24" y2="340.1" stroke="#111" stroke-width="0.5"/>
<line x1="170.42000000000002" y1="338.3" x2="170.42000000000002" y2="340.1" stroke="#111" stroke-width="0.5"/>
<line x1="174.6" y1="338.3" x2="174.6" y2="340.1" stroke="#111" stroke-width="0.5"/>
<line x1="178.78" y1="338.3" x2="178.78" y2="340.1" stroke="#111" stroke-width="0.5"/>
<line x1="182.96" y1="338.3" x2="182.96" y2="340.1" stroke="#111" stroke-width="0.5"/>
<line x1="187.14" y1="338.3" x2="187.14" y2="340.1" stroke="#111" stroke-width="0.5"/>
<line x1="191.32" y1="338.3" x2="191.32" y2="340.1" stroke="#111" stroke-width="0.5"/>
<line x1="195.5" y1="338.3" x2="195.5" y2="340.1" stroke="#111" stroke-width="0.5"/>
<line x1="199.68" y1="338.3" x2="199.68" y2="340.1" stroke="#111" stroke-width="0.5"/>
<line x1="203.86" y1="338.3" x2="203.86" y2="340.1" stroke="#111" stroke-width="0.5"/>
<line x1="208.04" y1="338.3" x2="208.04" y2="340.1" stroke="#111" stroke-width="0.5"/>
<text x="111.90" y="346.10" font-size="3.3" fill="#3a3a3a" text-anchor="middle" textLength="3.9" lengthAdjust="spacingAndGlyphs">1</text>
<text x="116.08" y="346.10" font-size="3.3" fill="#3a3a3a" text-anchor="middle" textLength="3.9" lengthAdjust="spacingAndGlyphs">2</text>
<text x="120.26" y="346.10" font-size="3.3" fill="#3a3a3a" text-anchor="middle" textLength="3.9" lengthAdjust="spacingAndGlyphs">3</text>
<text x="124.44" y="346.10" font-size="3.3" fill="#3a3a3a" text-anchor="middle" textLength="3.9" lengthAdjust="spacingAndGlyphs">4</text>
<text x="128.62" y="346.10" font-size="3.3" fill="#3a3a3a" text-anchor="middle" textLength="3.9" lengthAdjust="spacingAndGlyphs">5.1</text>
<text x="132.80" y="346.10" font-size="3.3" fill="#3a3a3a" text-anchor="middle" textLength="3.9" lengthAdjust="spacingAndGlyphs">5.2</text>
<text x="136.98" y="346.10" font-size="3.3" fill="#3a3a3a" text-anchor="middle" textLength="3.9" lengthAdjust="spacingAndGlyphs">5.3</text>
<text x="141.16" y="346.10" font-size="3.3" fill="#3a3a3a" text-anchor="middle" textLength="3.9" lengthAdjust="spacingAndGlyphs">7.1</text>
<text x="145.34" y="346.10" font-size="3.3" fill="#3a3a3a" text-anchor="middle" textLength="3.9" lengthAdjust="spacingAndGlyphs">7.2</text>
<text x="149.52" y="346.10" font-size="3.3" fill="#3a3a3a" text-anchor="middle" textLength="3.9" lengthAdjust="spacingAndGlyphs">8</text>
<text x="153.70" y="346.10" font-size="3.3" fill="#3a3a3a" text-anchor="middle" textLength="3.9" lengthAdjust="spacingAndGlyphs">9</text>
<text x="157.88" y="346.10" font-size="3.3" fill="#3a3a3a" text-anchor="middle" textLength="3.9" lengthAdjust="spacingAndGlyphs">11</text>
<text x="162.06" y="346.10" font-size="3.3" fill="#3a3a3a" text-anchor="middle" textLength="3.9" lengthAdjust="spacingAndGlyphs">12</text>
<text x="166.24" y="346.10" font-size="3.3" fill="#3a3a3a" text-anchor="middle" textLength="3.9" lengthAdjust="spacingAndGlyphs">13.1</text>
<text x="170.42" y="346.10" font-size="3.3" fill="#3a3a3a" text-anchor="middle" textLength="3.9" lengthAdjust="spacingAndGlyphs">13.2</text>
<text x="174.60" y="346.10" font-size="3.3" fill="#3a3a3a" text-anchor="middle" textLength="3.9" lengthAdjust="spacingAndGlyphs">13.6</text>
<text x="178.78" y="346.10" font-size="3.3" fill="#3a3a3a" text-anchor="middle" textLength="3.9" lengthAdjust="spacingAndGlyphs">14</text>
<text x="182.96" y="346.10" font-size="3.3" fill="#3a3a3a" text-anchor="middle" textLength="3.9" lengthAdjust="spacingAndGlyphs">16</text>
<text x="187.14" y="346.10" font-size="3.3" fill="#3a3a3a" text-anchor="middle" textLength="3.9" lengthAdjust="spacingAndGlyphs">17</text>
<text x="191.32" y="346.10" font-size="3.3" fill="#3a3a3a" text-anchor="middle" textLength="3.9" lengthAdjust="spacingAndGlyphs">18</text>
<text x="195.50" y="346.10" font-size="3.3" fill="#3a3a3a" text-anchor="middle" textLength="3.9" lengthAdjust="spacingAndGlyphs">20</text>
<text x="199.68" y="346.10" font-size="3.3" fill="#3a3a3a" text-anchor="middle" textLength="3.9" lengthAdjust="spacingAndGlyphs">21.3</text>
<text x="203.86" y="346.10" font-size="3.3" fill="#3a3a3a" text-anchor="middle" textLength="3.9" lengthAdjust="spacingAndGlyphs">22</text>
<text x="208.04" y="346.10" font-size="3.3" fill="#3a3a3a" text-anchor="middle" textLength="3.9" lengthAdjust="spacingAndGlyphs">23</text>
<text x="125.80" y="348.70" font-size="3.0" fill="#444" textLength="18.4" lengthAdjust="spacingAndGlyphs">a/b/c/d/e/f/g</text>
<text x="163.20" y="348.70" font-size="3.0" fill="#444" textLength="12.7" lengthAdjust="spacingAndGlyphs">a/b/c/d</text>
<text x="195.00" y="348.70" font-size="3.0" fill="#444" textLength="14.7" lengthAdjust="spacingAndGlyphs">b/c/a/b</text>
<text x="164.20" y="352.10" font-size="3.0" fill="#444" textLength="10.6" lengthAdjust="spacingAndGlyphs">a/b/c</text>
<text x="197.00" y="352.10" font-size="3.0" fill="#444" textLength="3.0" lengthAdjust="spacingAndGlyphs">a</text>
<path d="M253.30,338.30 L253.90,326.29 L258.08,330.01 L262.26,336.01 L266.44,330.01 L270.62,322.28 L274.80,335.44 L278.98,337.44 L283.16,335.44 L287.34,337.44 L291.52,334.87 L295.70,332.58 L299.88,336.87 L304.06,334.01 L308.24,329.72 L312.42,328.29 L316.60,336.30 L320.78,330.29 L324.96,337.44 L329.14,332.01 L333.32,336.87 L337.50,332.58 L341.68,332.01 L345.86,294.54 L350.04,335.44 L350.44,338.30Z" fill="#e8786c" stroke="#c8413e" stroke-width="0.6"/>
<line x1="253.9" y1="334.81080000000003" x2="253.9" y2="320.85400000000004" stroke="#5a5a5a" stroke-width="0.7"/>
<line x1="252.70000000000002" y1="320.85400000000004" x2="255.1" y2="320.85400000000004" stroke="#333" stroke-width="0.75"/>
<line x1="252.9" y1="327.8324" x2="254.9" y2="327.8324" stroke="#333" stroke-width="0.6"/>
<line x1="252.9" y1="334.81080000000003" x2="254.9" y2="334.81080000000003" stroke="#333" stroke-width="0.6"/>
<line x1="258.08" y1="330.8068" x2="258.08" y2="300.834" stroke="#5a5a5a" stroke-width="0.7"/>
<line x1="256.88" y1="300.834" x2="259.28" y2="300.834" stroke="#333" stroke-width="0.75"/>
<line x1="257.08" y1="315.8204" x2="259.08" y2="315.8204" stroke="#333" stroke-width="0.6"/>
<line x1="257.08" y1="330.8068" x2="259.08" y2="330.8068" stroke="#333" stroke-width="0.6"/>
<line x1="262.26" y1="332.1224" x2="262.26" y2="307.41200000000003" stroke="#5a5a5a" stroke-width="0.7"/>
<line x1="261.06" y1="307.41200000000003" x2="263.46" y2="307.41200000000003" stroke="#333" stroke-width="0.75"/>
<line x1="261.26" y1="319.7672" x2="263.26" y2="319.7672" stroke="#333" stroke-width="0.6"/>
<line x1="261.26" y1="332.1224" x2="263.26" y2="332.1224" stroke="#333" stroke-width="0.6"/>
<line x1="266.44" y1="336.584" x2="266.44" y2="329.72" stroke="#5a5a5a" stroke-width="0.7"/>
<line x1="265.24" y1="329.72" x2="267.64" y2="329.72" stroke="#333" stroke-width="0.75"/>
<line x1="265.44" y1="333.152" x2="267.44" y2="333.152" stroke="#333" stroke-width="0.6"/>
<line x1="265.44" y1="336.584" x2="267.44" y2="336.584" stroke="#333" stroke-width="0.6"/>
<line x1="270.62" y1="333.438" x2="270.62" y2="313.99" stroke="#5a5a5a" stroke-width="0.7"/>
<line x1="269.42" y1="313.99" x2="271.82" y2="313.99" stroke="#333" stroke-width="0.75"/>
<line x1="269.62" y1="323.714" x2="271.62" y2="323.714" stroke="#333" stroke-width="0.6"/>
<line x1="269.62" y1="333.438" x2="271.62" y2="333.438" stroke="#333" stroke-width="0.6"/>
<line x1="274.8" y1="337.0416" x2="274.8" y2="332.00800000000004" stroke="#5a5a5a" stroke-width="0.7"/>
<line x1="273.6" y1="332.00800000000004" x2="276.0" y2="332.00800000000004" stroke="#333" stroke-width="0.75"/>
<line x1="273.8" y1="334.5248" x2="275.8" y2="334.5248" stroke="#333" stroke-width="0.6"/>
<line x1="273.8" y1="337.0416" x2="275.8" y2="337.0416" stroke="#333" stroke-width="0.6"/>
<line x1="278.98" y1="337.2704" x2="278.98" y2="333.152" stroke="#5a5a5a" stroke-width="0.7"/>
<line x1="277.78000000000003" y1="333.152" x2="280.18" y2="333.152" stroke="#333" stroke-width="0.75"/>
<line x1="277.98" y1="335.2112" x2="279.98" y2="335.2112" stroke="#333" stroke-width="0.6"/>
<line x1="277.98" y1="337.2704" x2="279.98" y2="337.2704" stroke="#333" stroke-width="0.6"/>
<line x1="283.16" y1="334.5248" x2="283.16" y2="319.42400000000004" stroke="#5a5a5a" stroke-width="0.7"/>
<line x1="281.96000000000004" y1="319.42400000000004" x2="284.36" y2="319.42400000000004" stroke="#333" stroke-width="0.75"/>
<line x1="282.16" y1="326.9744" x2="284.16" y2="326.9744" stroke="#333" stroke-width="0.6"/>
<line x1="282.16" y1="334.5248" x2="284.16" y2="334.5248" stroke="#333" stroke-width="0.6"/>
<line x1="287.34000000000003" y1="336.3552" x2="287.34000000000003" y2="328.576" stroke="#5a5a5a" stroke-width="0.7"/>
<line x1="286.14000000000004" y1="328.576" x2="288.54" y2="328.576" stroke="#333" stroke-width="0.75"/>
<line x1="286.34000000000003" y1="332.4656" x2="288.34000000000003" y2="332.4656" stroke="#333" stroke-width="0.6"/>
<line x1="286.34000000000003" y1="336.3552" x2="288.34000000000003" y2="336.3552" stroke="#333" stroke-width="0.6"/>
<line x1="291.52" y1="332.294" x2="291.52" y2="308.27000000000004" stroke="#5a5a5a" stroke-width="0.7"/>
<line x1="290.32" y1="308.27000000000004" x2="292.71999999999997" y2="308.27000000000004" stroke="#333" stroke-width="0.75"/>
<line x1="290.52" y1="320.28200000000004" x2="292.52" y2="320.28200000000004" stroke="#333" stroke-width="0.6"/>
<line x1="290.52" y1="332.294" x2="292.52" y2="332.294" stroke="#333" stroke-width="0.6"/>
<line x1="295.7" y1="335.2684" x2="295.7" y2="323.142" stroke="#5a5a5a" stroke-width="0.7"/>
<line x1="294.5" y1="323.142" x2="296.9" y2="323.142" stroke="#333" stroke-width="0.75"/>
<line x1="294.7" y1="329.2052" x2="296.7" y2="329.2052" stroke="#333" stroke-width="0.6"/>
<line x1="294.7" y1="335.2684" x2="296.7" y2="335.2684" stroke="#333" stroke-width="0.6"/>
<line x1="299.88" y1="337.0988" x2="299.88" y2="332.294" stroke="#5a5a5a" stroke-width="0.7"/>
<line x1="298.68" y1="332.294" x2="301.08" y2="332.294" stroke="#333" stroke-width="0.75"/>
<line x1="298.88" y1="334.69640000000004" x2="300.88" y2="334.69640000000004" stroke="#333" stroke-width="0.6"/>
<line x1="298.88" y1="337.0988" x2="300.88" y2="337.0988" stroke="#333" stroke-width="0.6"/>
<line x1="304.06" y1="336.81280000000004" x2="304.06" y2="330.86400000000003" stroke="#5a5a5a" stroke-width="0.7"/>
<line x1="302.86" y1="330.86400000000003" x2="305.26" y2="330.86400000000003" stroke="#333" stroke-width="0.75"/>
<line x1="303.06" y1="333.83840000000004" x2="305.06" y2="333.83840000000004" stroke="#333" stroke-width="0.6"/>
<line x1="303.06" y1="336.81280000000004" x2="305.06" y2="336.81280000000004" stroke="#333" stroke-width="0.6"/>
<line x1="308.24" y1="334.9252" x2="308.24" y2="321.426" stroke="#5a5a5a" stroke-width="0.7"/>
<line x1="307.04" y1="321.426" x2="309.44" y2="321.426" stroke="#333" stroke-width="0.75"/>
<line x1="307.24" y1="328.17560000000003" x2="309.24" y2="328.17560000000003" stroke="#333" stroke-width="0.6"/>
<line x1="307.24" y1="334.9252" x2="309.24" y2="334.9252" stroke="#333" stroke-width="0.6"/>
<line x1="312.42" y1="335.3256" x2="312.42" y2="323.428" stroke="#5a5a5a" stroke-width="0.7"/>
<line x1="311.22" y1="323.428" x2="313.62" y2="323.428" stroke="#333" stroke-width="0.75"/>
<line x1="311.42" y1="329.3768" x2="313.42" y2="329.3768" stroke="#333" stroke-width="0.6"/>
<line x1="311.42" y1="335.3256" x2="313.42" y2="335.3256" stroke="#333" stroke-width="0.6"/>
<line x1="316.6" y1="336.1836" x2="316.6" y2="327.718" stroke="#5a5a5a" stroke-width="0.7"/>
<line x1="315.40000000000003" y1="327.718" x2="317.8" y2="327.718" stroke="#333" stroke-width="0.75"/>
<line x1="315.6" y1="331.9508" x2="317.6" y2="331.9508" stroke="#333" stroke-width="0.6"/>
<line x1="315.6" y1="336.1836" x2="317.6" y2="336.1836" stroke="#333" stroke-width="0.6"/>
<line x1="320.78" y1="334.7536" x2="320.78" y2="320.568" stroke="#5a5a5a" stroke-width="0.7"/>
<line x1="319.58" y1="320.568" x2="321.97999999999996" y2="320.568" stroke="#333" stroke-width="0.75"/>
<line x1="319.78" y1="327.6608" x2="321.78" y2="327.6608" stroke="#333" stroke-width="0.6"/>
<line x1="319.78" y1="334.7536" x2="321.78" y2="334.7536" stroke="#333" stroke-width="0.6"/>
<line x1="324.96000000000004" y1="337.49920000000003" x2="324.96000000000004" y2="334.296" stroke="#5a5a5a" stroke-width="0.7"/>
<line x1="323.76000000000005" y1="334.296" x2="326.16" y2="334.296" stroke="#333" stroke-width="0.75"/>
<line x1="323.96000000000004" y1="335.8976" x2="325.96000000000004" y2="335.8976" stroke="#333" stroke-width="0.6"/>
<line x1="323.96000000000004" y1="337.49920000000003" x2="325.96000000000004" y2="337.49920000000003" stroke="#333" stroke-width="0.6"/>
<line x1="329.14" y1="333.9528" x2="329.14" y2="316.564" stroke="#5a5a5a" stroke-width="0.7"/>
<line x1="327.94" y1="316.564" x2="330.34" y2="316.564" stroke="#333" stroke-width="0.75"/>
<line x1="328.14" y1="325.2584" x2="330.14" y2="325.2584" stroke="#333" stroke-width="0.6"/>
<line x1="328.14" y1="333.9528" x2="330.14" y2="333.9528" stroke="#333" stroke-width="0.6"/>
<line x1="333.32" y1="336.6412" x2="333.32" y2="330.00600000000003" stroke="#5a5a5a" stroke-width="0.7"/>
<line x1="332.12" y1="330.00600000000003" x2="334.52" y2="330.00600000000003" stroke="#333" stroke-width="0.75"/>
<line x1="332.32" y1="333.3236" x2="334.32" y2="333.3236" stroke="#333" stroke-width="0.6"/>
<line x1="332.32" y1="336.6412" x2="334.32" y2="336.6412" stroke="#333" stroke-width="0.6"/>
<line x1="337.5" y1="335.3256" x2="337.5" y2="323.428" stroke="#5a5a5a" stroke-width="0.7"/>
<line x1="336.3" y1="323.428" x2="338.7" y2="323.428" stroke="#333" stroke-width="0.75"/>
<line x1="336.5" y1="329.3768" x2="338.5" y2="329.3768" stroke="#333" stroke-width="0.6"/>
<line x1="336.5" y1="335.3256" x2="338.5" y2="335.3256" stroke="#333" stroke-width="0.6"/>
<line x1="341.68" y1="336.1836" x2="341.68" y2="327.718" stroke="#5a5a5a" stroke-width="0.7"/>
<line x1="340.48" y1="327.718" x2="342.88" y2="327.718" stroke="#333" stroke-width="0.75"/>
<line x1="340.68" y1="331.9508" x2="342.68" y2="331.9508" stroke="#333" stroke-width="0.6"/>
<line x1="340.68" y1="336.1836" x2="342.68" y2="336.1836" stroke="#333" stroke-width="0.6"/>
<line x1="345.86" y1="334.81080000000003" x2="345.86" y2="320.85400000000004" stroke="#5a5a5a" stroke-width="0.7"/>
<line x1="344.66" y1="320.85400000000004" x2="347.06" y2="320.85400000000004" stroke="#333" stroke-width="0.75"/>
<line x1="344.86" y1="327.8324" x2="346.86" y2="327.8324" stroke="#333" stroke-width="0.6"/>
<line x1="344.86" y1="334.81080000000003" x2="346.86" y2="334.81080000000003" stroke="#333" stroke-width="0.6"/>
<line x1="350.03999999999996" y1="337.156" x2="350.03999999999996" y2="332.58" stroke="#5a5a5a" stroke-width="0.7"/>
<line x1="348.84" y1="332.58" x2="351.23999999999995" y2="332.58" stroke="#333" stroke-width="0.75"/>
<line x1="349.03999999999996" y1="334.868" x2="351.03999999999996" y2="334.868" stroke="#333" stroke-width="0.6"/>
<line x1="349.03999999999996" y1="337.156" x2="351.03999999999996" y2="337.156" stroke="#333" stroke-width="0.6"/>
<circle cx="253.90" cy="326.29" r="0.8" fill="#a81c2c"/>
<circle cx="258.08" cy="330.01" r="0.8" fill="#a81c2c"/>
<circle cx="262.26" cy="336.01" r="0.8" fill="#a81c2c"/>
<circle cx="266.44" cy="330.01" r="0.8" fill="#a81c2c"/>
<circle cx="270.62" cy="322.28" r="0.8" fill="#a81c2c"/>
<circle cx="274.80" cy="335.44" r="0.8" fill="#a81c2c"/>
<circle cx="278.98" cy="337.44" r="0.8" fill="#a81c2c"/>
<circle cx="283.16" cy="335.44" r="0.8" fill="#a81c2c"/>
<circle cx="287.34" cy="337.44" r="0.8" fill="#a81c2c"/>
<circle cx="291.52" cy="334.87" r="0.8" fill="#a81c2c"/>
<circle cx="295.70" cy="332.58" r="0.8" fill="#a81c2c"/>
<circle cx="299.88" cy="336.87" r="0.8" fill="#a81c2c"/>
<circle cx="304.06" cy="334.01" r="0.8" fill="#a81c2c"/>
<circle cx="308.24" cy="329.72" r="0.8" fill="#a81c2c"/>
<circle cx="312.42" cy="328.29" r="0.8" fill="#a81c2c"/>
<circle cx="316.60" cy="336.30" r="0.8" fill="#a81c2c"/>
<circle cx="320.78" cy="330.29" r="0.8" fill="#a81c2c"/>
<circle cx="324.96" cy="337.44" r="0.8" fill="#a81c2c"/>
<circle cx="329.14" cy="332.01" r="0.8" fill="#a81c2c"/>
<circle cx="333.32" cy="336.87" r="0.8" fill="#a81c2c"/>
<circle cx="337.50" cy="332.58" r="0.8" fill="#a81c2c"/>
<circle cx="341.68" cy="332.01" r="0.8" fill="#a81c2c"/>
<circle cx="345.86" cy="294.54" r="0.8" fill="#a81c2c"/>
<circle cx="350.04" cy="335.44" r="0.8" fill="#a81c2c"/>
<circle cx="345.6" cy="294.6" r="1.2" fill="#b0203a"/>
<line x1="249.7" y1="265.3" x2="249.7" y2="338.90000000000003" stroke="#111" stroke-width="0.9"/>
<line x1="353.8" y1="265.3" x2="353.8" y2="338.90000000000003" stroke="#111" stroke-width="0.9"/>
<line x1="249.7" y1="338.3" x2="353.8" y2="338.3" stroke="#111" stroke-width="0.9"/>
<line x1="247.89999999999998" y1="338.3" x2="249.7" y2="338.3" stroke="#111" stroke-width="0.6"/>
<line x1="353.8" y1="338.3" x2="355.6" y2="338.3" stroke="#111" stroke-width="0.6"/>
<text x="246.5" y="339.8" font-size="5.8" fill="#2a2a2a" text-anchor="end">0.0</text>
<text x="356.1" y="339.8" font-size="5.8" fill="#2a2a2a">0.0</text>
<line x1="247.89999999999998" y1="331.15000000000003" x2="249.7" y2="331.15000000000003" stroke="#111" stroke-width="0.6"/>
<line x1="353.8" y1="331.15000000000003" x2="355.6" y2="331.15000000000003" stroke="#111" stroke-width="0.6"/>
<text x="246.5" y="332.65000000000003" font-size="5.8" fill="#2a2a2a" text-anchor="end">2.5</text>
<text x="356.1" y="332.65000000000003" font-size="5.8" fill="#2a2a2a">2.5</text>
<line x1="247.89999999999998" y1="324.0" x2="249.7" y2="324.0" stroke="#111" stroke-width="0.6"/>
<line x1="353.8" y1="324.0" x2="355.6" y2="324.0" stroke="#111" stroke-width="0.6"/>
<text x="246.5" y="325.5" font-size="5.8" fill="#2a2a2a" text-anchor="end">5.0</text>
<text x="356.1" y="325.5" font-size="5.8" fill="#2a2a2a">5.0</text>
<line x1="247.89999999999998" y1="316.85" x2="249.7" y2="316.85" stroke="#111" stroke-width="0.6"/>
<line x1="353.8" y1="316.85" x2="355.6" y2="316.85" stroke="#111" stroke-width="0.6"/>
<text x="246.5" y="318.35" font-size="5.8" fill="#2a2a2a" text-anchor="end">7.5</text>
<text x="356.1" y="318.35" font-size="5.8" fill="#2a2a2a">7.5</text>
<line x1="247.89999999999998" y1="309.7" x2="249.7" y2="309.7" stroke="#111" stroke-width="0.6"/>
<line x1="353.8" y1="309.7" x2="355.6" y2="309.7" stroke="#111" stroke-width="0.6"/>
<text x="246.5" y="311.2" font-size="5.8" fill="#2a2a2a" text-anchor="end">10.0</text>
<text x="356.1" y="311.2" font-size="5.8" fill="#2a2a2a">10.0</text>
<line x1="247.89999999999998" y1="302.55" x2="249.7" y2="302.55" stroke="#111" stroke-width="0.6"/>
<line x1="353.8" y1="302.55" x2="355.6" y2="302.55" stroke="#111" stroke-width="0.6"/>
<text x="246.5" y="304.05" font-size="5.8" fill="#2a2a2a" text-anchor="end">12.5</text>
<text x="356.1" y="304.05" font-size="5.8" fill="#2a2a2a">12.5</text>
<line x1="247.89999999999998" y1="295.40000000000003" x2="249.7" y2="295.40000000000003" stroke="#111" stroke-width="0.6"/>
<line x1="353.8" y1="295.40000000000003" x2="355.6" y2="295.40000000000003" stroke="#111" stroke-width="0.6"/>
<text x="246.5" y="296.90000000000003" font-size="5.8" fill="#2a2a2a" text-anchor="end">15.0</text>
<text x="356.1" y="296.90000000000003" font-size="5.8" fill="#2a2a2a">15.0</text>
<line x1="247.89999999999998" y1="288.25" x2="249.7" y2="288.25" stroke="#111" stroke-width="0.6"/>
<line x1="353.8" y1="288.25" x2="355.6" y2="288.25" stroke="#111" stroke-width="0.6"/>
<text x="246.5" y="289.75" font-size="5.8" fill="#2a2a2a" text-anchor="end">17.5</text>
<text x="356.1" y="289.75" font-size="5.8" fill="#2a2a2a">17.5</text>
<line x1="247.89999999999998" y1="281.1" x2="249.7" y2="281.1" stroke="#111" stroke-width="0.6"/>
<line x1="353.8" y1="281.1" x2="355.6" y2="281.1" stroke="#111" stroke-width="0.6"/>
<text x="246.5" y="282.6" font-size="5.8" fill="#2a2a2a" text-anchor="end">20.0</text>
<text x="356.1" y="282.6" font-size="5.8" fill="#2a2a2a">20.0</text>
<line x1="247.89999999999998" y1="273.95000000000005" x2="249.7" y2="273.95000000000005" stroke="#111" stroke-width="0.6"/>
<line x1="353.8" y1="273.95000000000005" x2="355.6" y2="273.95000000000005" stroke="#111" stroke-width="0.6"/>
<text x="246.5" y="275.45000000000005" font-size="5.8" fill="#2a2a2a" text-anchor="end">22.5</text>
<text x="356.1" y="275.45000000000005" font-size="5.8" fill="#2a2a2a">22.5</text>
<line x1="247.89999999999998" y1="266.8" x2="249.7" y2="266.8" stroke="#111" stroke-width="0.6"/>
<line x1="353.8" y1="266.8" x2="355.6" y2="266.8" stroke="#111" stroke-width="0.6"/>
<text x="246.5" y="268.3" font-size="5.8" fill="#2a2a2a" text-anchor="end">25.0</text>
<text x="356.1" y="268.3" font-size="5.8" fill="#2a2a2a">25.0</text>
<line x1="253.9" y1="338.3" x2="253.9" y2="340.1" stroke="#111" stroke-width="0.5"/>
<line x1="258.08" y1="338.3" x2="258.08" y2="340.1" stroke="#111" stroke-width="0.5"/>
<line x1="262.26" y1="338.3" x2="262.26" y2="340.1" stroke="#111" stroke-width="0.5"/>
<line x1="266.44" y1="338.3" x2="266.44" y2="340.1" stroke="#111" stroke-width="0.5"/>
<line x1="270.62" y1="338.3" x2="270.62" y2="340.1" stroke="#111" stroke-width="0.5"/>
<line x1="274.8" y1="338.3" x2="274.8" y2="340.1" stroke="#111" stroke-width="0.5"/>
<line x1="278.98" y1="338.3" x2="278.98" y2="340.1" stroke="#111" stroke-width="0.5"/>
<line x1="283.16" y1="338.3" x2="283.16" y2="340.1" stroke="#111" stroke-width="0.5"/>
<line x1="287.34000000000003" y1="338.3" x2="287.34000000000003" y2="340.1" stroke="#111" stroke-width="0.5"/>
<line x1="291.52" y1="338.3" x2="291.52" y2="340.1" stroke="#111" stroke-width="0.5"/>
<line x1="295.7" y1="338.3" x2="295.7" y2="340.1" stroke="#111" stroke-width="0.5"/>
<line x1="299.88" y1="338.3" x2="299.88" y2="340.1" stroke="#111" stroke-width="0.5"/>
<line x1="304.06" y1="338.3" x2="304.06" y2="340.1" stroke="#111" stroke-width="0.5"/>
<line x1="308.24" y1="338.3" x2="308.24" y2="340.1" stroke="#111" stroke-width="0.5"/>
<line x1="312.42" y1="338.3" x2="312.42" y2="340.1" stroke="#111" stroke-width="0.5"/>
<line x1="316.6" y1="338.3" x2="316.6" y2="340.1" stroke="#111" stroke-width="0.5"/>
<line x1="320.78" y1="338.3" x2="320.78" y2="340.1" stroke="#111" stroke-width="0.5"/>
<line x1="324.96000000000004" y1="338.3" x2="324.96000000000004" y2="340.1" stroke="#111" stroke-width="0.5"/>
<line x1="329.14" y1="338.3" x2="329.14" y2="340.1" stroke="#111" stroke-width="0.5"/>
<line x1="333.32" y1="338.3" x2="333.32" y2="340.1" stroke="#111" stroke-width="0.5"/>
<line x1="337.5" y1="338.3" x2="337.5" y2="340.1" stroke="#111" stroke-width="0.5"/>
<line x1="341.68" y1="338.3" x2="341.68" y2="340.1" stroke="#111" stroke-width="0.5"/>
<line x1="345.86" y1="338.3" x2="345.86" y2="340.1" stroke="#111" stroke-width="0.5"/>
<line x1="350.03999999999996" y1="338.3" x2="350.03999999999996" y2="340.1" stroke="#111" stroke-width="0.5"/>
<text x="253.90" y="346.10" font-size="3.3" fill="#3a3a3a" text-anchor="middle" textLength="3.9" lengthAdjust="spacingAndGlyphs">1</text>
<text x="258.08" y="346.10" font-size="3.3" fill="#3a3a3a" text-anchor="middle" textLength="3.9" lengthAdjust="spacingAndGlyphs">2</text>
<text x="262.26" y="346.10" font-size="3.3" fill="#3a3a3a" text-anchor="middle" textLength="3.9" lengthAdjust="spacingAndGlyphs">3</text>
<text x="266.44" y="346.10" font-size="3.3" fill="#3a3a3a" text-anchor="middle" textLength="3.9" lengthAdjust="spacingAndGlyphs">4</text>
<text x="270.62" y="346.10" font-size="3.3" fill="#3a3a3a" text-anchor="middle" textLength="3.9" lengthAdjust="spacingAndGlyphs">5.1</text>
<text x="274.80" y="346.10" font-size="3.3" fill="#3a3a3a" text-anchor="middle" textLength="3.9" lengthAdjust="spacingAndGlyphs">5.2</text>
<text x="278.98" y="346.10" font-size="3.3" fill="#3a3a3a" text-anchor="middle" textLength="3.9" lengthAdjust="spacingAndGlyphs">5.3</text>
<text x="283.16" y="346.10" font-size="3.3" fill="#3a3a3a" text-anchor="middle" textLength="3.9" lengthAdjust="spacingAndGlyphs">7.1</text>
<text x="287.34" y="346.10" font-size="3.3" fill="#3a3a3a" text-anchor="middle" textLength="3.9" lengthAdjust="spacingAndGlyphs">7.2</text>
<text x="291.52" y="346.10" font-size="3.3" fill="#3a3a3a" text-anchor="middle" textLength="3.9" lengthAdjust="spacingAndGlyphs">8</text>
<text x="295.70" y="346.10" font-size="3.3" fill="#3a3a3a" text-anchor="middle" textLength="3.9" lengthAdjust="spacingAndGlyphs">9</text>
<text x="299.88" y="346.10" font-size="3.3" fill="#3a3a3a" text-anchor="middle" textLength="3.9" lengthAdjust="spacingAndGlyphs">11</text>
<text x="304.06" y="346.10" font-size="3.3" fill="#3a3a3a" text-anchor="middle" textLength="3.9" lengthAdjust="spacingAndGlyphs">12</text>
<text x="308.24" y="346.10" font-size="3.3" fill="#3a3a3a" text-anchor="middle" textLength="3.9" lengthAdjust="spacingAndGlyphs">13.1</text>
<text x="312.42" y="346.10" font-size="3.3" fill="#3a3a3a" text-anchor="middle" textLength="3.9" lengthAdjust="spacingAndGlyphs">13.2</text>
<text x="316.60" y="346.10" font-size="3.3" fill="#3a3a3a" text-anchor="middle" textLength="3.9" lengthAdjust="spacingAndGlyphs">13.6</text>
<text x="320.78" y="346.10" font-size="3.3" fill="#3a3a3a" text-anchor="middle" textLength="3.9" lengthAdjust="spacingAndGlyphs">14</text>
<text x="324.96" y="346.10" font-size="3.3" fill="#3a3a3a" text-anchor="middle" textLength="3.9" lengthAdjust="spacingAndGlyphs">16</text>
<text x="329.14" y="346.10" font-size="3.3" fill="#3a3a3a" text-anchor="middle" textLength="3.9" lengthAdjust="spacingAndGlyphs">17</text>
<text x="333.32" y="346.10" font-size="3.3" fill="#3a3a3a" text-anchor="middle" textLength="3.9" lengthAdjust="spacingAndGlyphs">18</text>
<text x="337.50" y="346.10" font-size="3.3" fill="#3a3a3a" text-anchor="middle" textLength="3.9" lengthAdjust="spacingAndGlyphs">20</text>
<text x="341.68" y="346.10" font-size="3.3" fill="#3a3a3a" text-anchor="middle" textLength="3.9" lengthAdjust="spacingAndGlyphs">21.3</text>
<text x="345.86" y="346.10" font-size="3.3" fill="#3a3a3a" text-anchor="middle" textLength="3.9" lengthAdjust="spacingAndGlyphs">22</text>
<text x="350.04" y="346.10" font-size="3.3" fill="#3a3a3a" text-anchor="middle" textLength="3.9" lengthAdjust="spacingAndGlyphs">23</text>
<text x="267.80" y="348.70" font-size="3.0" fill="#444" textLength="18.4" lengthAdjust="spacingAndGlyphs">a/b/c/d/e/f/g</text>
<text x="305.20" y="348.70" font-size="3.0" fill="#444" textLength="12.7" lengthAdjust="spacingAndGlyphs">a/b/c/d</text>
<text x="337.00" y="348.70" font-size="3.0" fill="#444" textLength="14.7" lengthAdjust="spacingAndGlyphs">b/c/a/b</text>
<text x="306.20" y="352.10" font-size="3.0" fill="#444" textLength="10.6" lengthAdjust="spacingAndGlyphs">a/b/c</text>
<text x="339.00" y="352.10" font-size="3.0" fill="#444" textLength="3.0" lengthAdjust="spacingAndGlyphs">a</text>
<path d="M397.70,338.30 L398.30,331.15 L402.48,312.56 L406.66,320.28 L410.84,333.15 L415.02,322.57 L419.20,335.44 L423.38,335.44 L427.56,332.58 L431.74,335.44 L435.92,328.29 L440.10,329.15 L444.28,335.44 L448.46,332.58 L452.64,327.43 L456.82,334.01 L461.00,334.01 L465.18,328.29 L469.36,335.44 L473.54,326.86 L477.72,334.01 L481.90,334.01 L486.08,334.01 L490.26,326.86 L494.44,335.44 L494.84,338.30Z" fill="#e8786c" stroke="#c8413e" stroke-width="0.6"/>
<line x1="398.3" y1="334.81080000000003" x2="398.3" y2="320.85400000000004" stroke="#5a5a5a" stroke-width="0.7"/>
<line x1="397.1" y1="320.85400000000004" x2="399.5" y2="320.85400000000004" stroke="#333" stroke-width="0.75"/>
<line x1="397.3" y1="327.8324" x2="399.3" y2="327.8324" stroke="#333" stroke-width="0.6"/>
<line x1="397.3" y1="334.81080000000003" x2="399.3" y2="334.81080000000003" stroke="#333" stroke-width="0.6"/>
<line x1="402.48" y1="330.8068" x2="402.48" y2="300.834" stroke="#5a5a5a" stroke-width="0.7"/>
<line x1="401.28000000000003" y1="300.834" x2="403.68" y2="300.834" stroke="#333" stroke-width="0.75"/>
<line x1="401.48" y1="315.8204" x2="403.48" y2="315.8204" stroke="#333" stroke-width="0.6"/>
<line x1="401.48" y1="330.8068" x2="403.48" y2="330.8068" stroke="#333" stroke-width="0.6"/>
<line x1="406.66" y1="332.1224" x2="406.66" y2="307.41200000000003" stroke="#5a5a5a" stroke-width="0.7"/>
<line x1="405.46000000000004" y1="307.41200000000003" x2="407.86" y2="307.41200000000003" stroke="#333" stroke-width="0.75"/>
<line x1="405.66" y1="319.7672" x2="407.66" y2="319.7672" stroke="#333" stroke-width="0.6"/>
<line x1="405.66" y1="332.1224" x2="407.66" y2="332.1224" stroke="#333" stroke-width="0.6"/>
<line x1="410.84000000000003" y1="336.584" x2="410.84000000000003" y2="329.72" stroke="#5a5a5a" stroke-width="0.7"/>
<line x1="409.64000000000004" y1="329.72" x2="412.04" y2="329.72" stroke="#333" stroke-width="0.75"/>
<line x1="409.84000000000003" y1="333.152" x2="411.84000000000003" y2="333.152" stroke="#333" stroke-width="0.6"/>
<line x1="409.84000000000003" y1="336.584" x2="411.84000000000003" y2="336.584" stroke="#333" stroke-width="0.6"/>
<line x1="415.02" y1="333.438" x2="415.02" y2="313.99" stroke="#5a5a5a" stroke-width="0.7"/>
<line x1="413.82" y1="313.99" x2="416.21999999999997" y2="313.99" stroke="#333" stroke-width="0.75"/>
<line x1="414.02" y1="323.714" x2="416.02" y2="323.714" stroke="#333" stroke-width="0.6"/>
<line x1="414.02" y1="333.438" x2="416.02" y2="333.438" stroke="#333" stroke-width="0.6"/>
<line x1="419.2" y1="337.0416" x2="419.2" y2="332.00800000000004" stroke="#5a5a5a" stroke-width="0.7"/>
<line x1="418.0" y1="332.00800000000004" x2="420.4" y2="332.00800000000004" stroke="#333" stroke-width="0.75"/>
<line x1="418.2" y1="334.5248" x2="420.2" y2="334.5248" stroke="#333" stroke-width="0.6"/>
<line x1="418.2" y1="337.0416" x2="420.2" y2="337.0416" stroke="#333" stroke-width="0.6"/>
<line x1="423.38" y1="337.2704" x2="423.38" y2="333.152" stroke="#5a5a5a" stroke-width="0.7"/>
<line x1="422.18" y1="333.152" x2="424.58" y2="333.152" stroke="#333" stroke-width="0.75"/>
<line x1="422.38" y1="335.2112" x2="424.38" y2="335.2112" stroke="#333" stroke-width="0.6"/>
<line x1="422.38" y1="337.2704" x2="424.38" y2="337.2704" stroke="#333" stroke-width="0.6"/>
<line x1="427.56" y1="334.5248" x2="427.56" y2="319.42400000000004" stroke="#5a5a5a" stroke-width="0.7"/>
<line x1="426.36" y1="319.42400000000004" x2="428.76" y2="319.42400000000004" stroke="#333" stroke-width="0.75"/>
<line x1="426.56" y1="326.9744" x2="428.56" y2="326.9744" stroke="#333" stroke-width="0.6"/>
<line x1="426.56" y1="334.5248" x2="428.56" y2="334.5248" stroke="#333" stroke-width="0.6"/>
<line x1="431.74" y1="336.3552" x2="431.74" y2="328.576" stroke="#5a5a5a" stroke-width="0.7"/>
<line x1="430.54" y1="328.576" x2="432.94" y2="328.576" stroke="#333" stroke-width="0.75"/>
<line x1="430.74" y1="332.4656" x2="432.74" y2="332.4656" stroke="#333" stroke-width="0.6"/>
<line x1="430.74" y1="336.3552" x2="432.74" y2="336.3552" stroke="#333" stroke-width="0.6"/>
<line x1="435.92" y1="332.294" x2="435.92" y2="308.27000000000004" stroke="#5a5a5a" stroke-width="0.7"/>
<line x1="434.72" y1="308.27000000000004" x2="437.12" y2="308.27000000000004" stroke="#333" stroke-width="0.75"/>
<line x1="434.92" y1="320.28200000000004" x2="436.92" y2="320.28200000000004" stroke="#333" stroke-width="0.6"/>
<line x1="434.92" y1="332.294" x2="436.92" y2="332.294" stroke="#333" stroke-width="0.6"/>
<line x1="440.1" y1="335.2684" x2="440.1" y2="323.142" stroke="#5a5a5a" stroke-width="0.7"/>
<line x1="438.90000000000003" y1="323.142" x2="441.3" y2="323.142" stroke="#333" stroke-width="0.75"/>
<line x1="439.1" y1="329.2052" x2="441.1" y2="329.2052" stroke="#333" stroke-width="0.6"/>
<line x1="439.1" y1="335.2684" x2="441.1" y2="335.2684" stroke="#333" stroke-width="0.6"/>
<line x1="444.28000000000003" y1="337.0988" x2="444.28000000000003" y2="332.294" stroke="#5a5a5a" stroke-width="0.7"/>
<line x1="443.08000000000004" y1="332.294" x2="445.48" y2="332.294" stroke="#333" stroke-width="0.75"/>
<line x1="443.28000000000003" y1="334.69640000000004" x2="445.28000000000003" y2="334.69640000000004" stroke="#333" stroke-width="0.6"/>
<line x1="443.28000000000003" y1="337.0988" x2="445.28000000000003" y2="337.0988" stroke="#333" stroke-width="0.6"/>
<line x1="448.46000000000004" y1="336.81280000000004" x2="448.46000000000004" y2="330.86400000000003" stroke="#5a5a5a" stroke-width="0.7"/>
<line x1="447.26000000000005" y1="330.86400000000003" x2="449.66" y2="330.86400000000003" stroke="#333" stroke-width="0.75"/>
<line x1="447.46000000000004" y1="333.83840000000004" x2="449.46000000000004" y2="333.83840000000004" stroke="#333" stroke-width="0.6"/>
<line x1="447.46000000000004" y1="336.81280000000004" x2="449.46000000000004" y2="336.81280000000004" stroke="#333" stroke-width="0.6"/>
<line x1="452.64" y1="334.9252" x2="452.64" y2="321.426" stroke="#5a5a5a" stroke-width="0.7"/>
<line x1="451.44" y1="321.426" x2="453.84" y2="321.426" stroke="#333" stroke-width="0.75"/>
<line x1="451.64" y1="328.17560000000003" x2="453.64" y2="328.17560000000003" stroke="#333" stroke-width="0.6"/>
<line x1="451.64" y1="334.9252" x2="453.64" y2="334.9252" stroke="#333" stroke-width="0.6"/>
<line x1="456.82" y1="335.3256" x2="456.82" y2="323.428" stroke="#5a5a5a" stroke-width="0.7"/>
<line x1="455.62" y1="323.428" x2="458.02" y2="323.428" stroke="#333" stroke-width="0.75"/>
<line x1="455.82" y1="329.3768" x2="457.82" y2="329.3768" stroke="#333" stroke-width="0.6"/>
<line x1="455.82" y1="335.3256" x2="457.82" y2="335.3256" stroke="#333" stroke-width="0.6"/>
<line x1="461.0" y1="336.1836" x2="461.0" y2="327.718" stroke="#5a5a5a" stroke-width="0.7"/>
<line x1="459.8" y1="327.718" x2="462.2" y2="327.718" stroke="#333" stroke-width="0.75"/>
<line x1="460.0" y1="331.9508" x2="462.0" y2="331.9508" stroke="#333" stroke-width="0.6"/>
<line x1="460.0" y1="336.1836" x2="462.0" y2="336.1836" stroke="#333" stroke-width="0.6"/>
<line x1="465.18" y1="334.7536" x2="465.18" y2="320.568" stroke="#5a5a5a" stroke-width="0.7"/>
<line x1="463.98" y1="320.568" x2="466.38" y2="320.568" stroke="#333" stroke-width="0.75"/>
<line x1="464.18" y1="327.6608" x2="466.18" y2="327.6608" stroke="#333" stroke-width="0.6"/>
<line x1="464.18" y1="334.7536" x2="466.18" y2="334.7536" stroke="#333" stroke-width="0.6"/>
<line x1="469.36" y1="337.49920000000003" x2="469.36" y2="334.296" stroke="#5a5a5a" stroke-width="0.7"/>
<line x1="468.16" y1="334.296" x2="470.56" y2="334.296" stroke="#333" stroke-width="0.75"/>
<line x1="468.36" y1="335.8976" x2="470.36" y2="335.8976" stroke="#333" stroke-width="0.6"/>
<line x1="468.36" y1="337.49920000000003" x2="470.36" y2="337.49920000000003" stroke="#333" stroke-width="0.6"/>
<line x1="473.54" y1="333.9528" x2="473.54" y2="316.564" stroke="#5a5a5a" stroke-width="0.7"/>
<line x1="472.34000000000003" y1="316.564" x2="474.74" y2="316.564" stroke="#333" stroke-width="0.75"/>
<line x1="472.54" y1="325.2584" x2="474.54" y2="325.2584" stroke="#333" stroke-width="0.6"/>
<line x1="472.54" y1="333.9528" x2="474.54" y2="333.9528" stroke="#333" stroke-width="0.6"/>
<line x1="477.72" y1="336.6412" x2="477.72" y2="330.00600000000003" stroke="#5a5a5a" stroke-width="0.7"/>
<line x1="476.52000000000004" y1="330.00600000000003" x2="478.92" y2="330.00600000000003" stroke="#333" stroke-width="0.75"/>
<line x1="476.72" y1="333.3236" x2="478.72" y2="333.3236" stroke="#333" stroke-width="0.6"/>
<line x1="476.72" y1="336.6412" x2="478.72" y2="336.6412" stroke="#333" stroke-width="0.6"/>
<line x1="481.9" y1="335.3256" x2="481.9" y2="323.428" stroke="#5a5a5a" stroke-width="0.7"/>
<line x1="480.7" y1="323.428" x2="483.09999999999997" y2="323.428" stroke="#333" stroke-width="0.75"/>
<line x1="480.9" y1="329.3768" x2="482.9" y2="329.3768" stroke="#333" stroke-width="0.6"/>
<line x1="480.9" y1="335.3256" x2="482.9" y2="335.3256" stroke="#333" stroke-width="0.6"/>
<line x1="486.08000000000004" y1="336.1836" x2="486.08000000000004" y2="327.718" stroke="#5a5a5a" stroke-width="0.7"/>
<line x1="484.88000000000005" y1="327.718" x2="487.28000000000003" y2="327.718" stroke="#333" stroke-width="0.75"/>
<line x1="485.08000000000004" y1="331.9508" x2="487.08000000000004" y2="331.9508" stroke="#333" stroke-width="0.6"/>
<line x1="485.08000000000004" y1="336.1836" x2="487.08000000000004" y2="336.1836" stroke="#333" stroke-width="0.6"/>
<line x1="490.26" y1="334.81080000000003" x2="490.26" y2="320.85400000000004" stroke="#5a5a5a" stroke-width="0.7"/>
<line x1="489.06" y1="320.85400000000004" x2="491.46" y2="320.85400000000004" stroke="#333" stroke-width="0.75"/>
<line x1="489.26" y1="327.8324" x2="491.26" y2="327.8324" stroke="#333" stroke-width="0.6"/>
<line x1="489.26" y1="334.81080000000003" x2="491.26" y2="334.81080000000003" stroke="#333" stroke-width="0.6"/>
<line x1="494.44" y1="337.156" x2="494.44" y2="332.58" stroke="#5a5a5a" stroke-width="0.7"/>
<line x1="493.24" y1="332.58" x2="495.64" y2="332.58" stroke="#333" stroke-width="0.75"/>
<line x1="493.44" y1="334.868" x2="495.44" y2="334.868" stroke="#333" stroke-width="0.6"/>
<line x1="493.44" y1="337.156" x2="495.44" y2="337.156" stroke="#333" stroke-width="0.6"/>
<circle cx="398.30" cy="331.15" r="0.8" fill="#a81c2c"/>
<circle cx="402.48" cy="312.56" r="0.8" fill="#a81c2c"/>
<circle cx="406.66" cy="320.28" r="0.8" fill="#a81c2c"/>
<circle cx="410.84" cy="333.15" r="0.8" fill="#a81c2c"/>
<circle cx="415.02" cy="322.57" r="0.8" fill="#a81c2c"/>
<circle cx="419.20" cy="335.44" r="0.8" fill="#a81c2c"/>
<circle cx="423.38" cy="335.44" r="0.8" fill="#a81c2c"/>
<circle cx="427.56" cy="332.58" r="0.8" fill="#a81c2c"/>
<circle cx="431.74" cy="335.44" r="0.8" fill="#a81c2c"/>
<circle cx="435.92" cy="328.29" r="0.8" fill="#a81c2c"/>
<circle cx="440.10" cy="329.15" r="0.8" fill="#a81c2c"/>
<circle cx="444.28" cy="335.44" r="0.8" fill="#a81c2c"/>
<circle cx="448.46" cy="332.58" r="0.8" fill="#a81c2c"/>
<circle cx="452.64" cy="327.43" r="0.8" fill="#a81c2c"/>
<circle cx="456.82" cy="334.01" r="0.8" fill="#a81c2c"/>
<circle cx="461.00" cy="334.01" r="0.8" fill="#a81c2c"/>
<circle cx="465.18" cy="328.29" r="0.8" fill="#a81c2c"/>
<circle cx="469.36" cy="335.44" r="0.8" fill="#a81c2c"/>
<circle cx="473.54" cy="326.86" r="0.8" fill="#a81c2c"/>
<circle cx="477.72" cy="334.01" r="0.8" fill="#a81c2c"/>
<circle cx="481.90" cy="334.01" r="0.8" fill="#a81c2c"/>
<circle cx="486.08" cy="334.01" r="0.8" fill="#a81c2c"/>
<circle cx="490.26" cy="326.86" r="0.8" fill="#a81c2c"/>
<circle cx="494.44" cy="335.44" r="0.8" fill="#a81c2c"/>
<line x1="394.4" y1="265.3" x2="394.4" y2="338.90000000000003" stroke="#111" stroke-width="0.9"/>
<line x1="498.8" y1="265.3" x2="498.8" y2="338.90000000000003" stroke="#111" stroke-width="0.9"/>
<line x1="394.4" y1="338.3" x2="498.8" y2="338.3" stroke="#111" stroke-width="0.9"/>
<line x1="392.59999999999997" y1="338.3" x2="394.4" y2="338.3" stroke="#111" stroke-width="0.6"/>
<line x1="498.8" y1="338.3" x2="500.6" y2="338.3" stroke="#111" stroke-width="0.6"/>
<text x="391.2" y="339.8" font-size="5.8" fill="#2a2a2a" text-anchor="end">0.0</text>
<text x="501.1" y="339.8" font-size="5.8" fill="#2a2a2a">0.0</text>
<line x1="392.59999999999997" y1="331.15000000000003" x2="394.4" y2="331.15000000000003" stroke="#111" stroke-width="0.6"/>
<line x1="498.8" y1="331.15000000000003" x2="500.6" y2="331.15000000000003" stroke="#111" stroke-width="0.6"/>
<text x="391.2" y="332.65000000000003" font-size="5.8" fill="#2a2a2a" text-anchor="end">2.5</text>
<text x="501.1" y="332.65000000000003" font-size="5.8" fill="#2a2a2a">2.5</text>
<line x1="392.59999999999997" y1="324.0" x2="394.4" y2="324.0" stroke="#111" stroke-width="0.6"/>
<line x1="498.8" y1="324.0" x2="500.6" y2="324.0" stroke="#111" stroke-width="0.6"/>
<text x="391.2" y="325.5" font-size="5.8" fill="#2a2a2a" text-anchor="end">5.0</text>
<text x="501.1" y="325.5" font-size="5.8" fill="#2a2a2a">5.0</text>
<line x1="392.59999999999997" y1="316.85" x2="394.4" y2="316.85" stroke="#111" stroke-width="0.6"/>
<line x1="498.8" y1="316.85" x2="500.6" y2="316.85" stroke="#111" stroke-width="0.6"/>
<text x="391.2" y="318.35" font-size="5.8" fill="#2a2a2a" text-anchor="end">7.5</text>
<text x="501.1" y="318.35" font-size="5.8" fill="#2a2a2a">7.5</text>
<line x1="392.59999999999997" y1="309.7" x2="394.4" y2="309.7" stroke="#111" stroke-width="0.6"/>
<line x1="498.8" y1="309.7" x2="500.6" y2="309.7" stroke="#111" stroke-width="0.6"/>
<text x="391.2" y="311.2" font-size="5.8" fill="#2a2a2a" text-anchor="end">10.0</text>
<text x="501.1" y="311.2" font-size="5.8" fill="#2a2a2a">10.0</text>
<line x1="392.59999999999997" y1="302.55" x2="394.4" y2="302.55" stroke="#111" stroke-width="0.6"/>
<line x1="498.8" y1="302.55" x2="500.6" y2="302.55" stroke="#111" stroke-width="0.6"/>
<text x="391.2" y="304.05" font-size="5.8" fill="#2a2a2a" text-anchor="end">12.5</text>
<text x="501.1" y="304.05" font-size="5.8" fill="#2a2a2a">12.5</text>
<line x1="392.59999999999997" y1="295.40000000000003" x2="394.4" y2="295.40000000000003" stroke="#111" stroke-width="0.6"/>
<line x1="498.8" y1="295.40000000000003" x2="500.6" y2="295.40000000000003" stroke="#111" stroke-width="0.6"/>
<text x="391.2" y="296.90000000000003" font-size="5.8" fill="#2a2a2a" text-anchor="end">15.0</text>
<text x="501.1" y="296.90000000000003" font-size="5.8" fill="#2a2a2a">15.0</text>
<line x1="392.59999999999997" y1="288.25" x2="394.4" y2="288.25" stroke="#111" stroke-width="0.6"/>
<line x1="498.8" y1="288.25" x2="500.6" y2="288.25" stroke="#111" stroke-width="0.6"/>
<text x="391.2" y="289.75" font-size="5.8" fill="#2a2a2a" text-anchor="end">17.5</text>
<text x="501.1" y="289.75" font-size="5.8" fill="#2a2a2a">17.5</text>
<line x1="392.59999999999997" y1="281.1" x2="394.4" y2="281.1" stroke="#111" stroke-width="0.6"/>
<line x1="498.8" y1="281.1" x2="500.6" y2="281.1" stroke="#111" stroke-width="0.6"/>
<text x="391.2" y="282.6" font-size="5.8" fill="#2a2a2a" text-anchor="end">20.0</text>
<text x="501.1" y="282.6" font-size="5.8" fill="#2a2a2a">20.0</text>
<line x1="392.59999999999997" y1="273.95000000000005" x2="394.4" y2="273.95000000000005" stroke="#111" stroke-width="0.6"/>
<line x1="498.8" y1="273.95000000000005" x2="500.6" y2="273.95000000000005" stroke="#111" stroke-width="0.6"/>
<text x="391.2" y="275.45000000000005" font-size="5.8" fill="#2a2a2a" text-anchor="end">22.5</text>
<text x="501.1" y="275.45000000000005" font-size="5.8" fill="#2a2a2a">22.5</text>
<line x1="392.59999999999997" y1="266.8" x2="394.4" y2="266.8" stroke="#111" stroke-width="0.6"/>
<line x1="498.8" y1="266.8" x2="500.6" y2="266.8" stroke="#111" stroke-width="0.6"/>
<text x="391.2" y="268.3" font-size="5.8" fill="#2a2a2a" text-anchor="end">25.0</text>
<text x="501.1" y="268.3" font-size="5.8" fill="#2a2a2a">25.0</text>
<line x1="398.3" y1="338.3" x2="398.3" y2="340.1" stroke="#111" stroke-width="0.5"/>
<line x1="402.48" y1="338.3" x2="402.48" y2="340.1" stroke="#111" stroke-width="0.5"/>
<line x1="406.66" y1="338.3" x2="406.66" y2="340.1" stroke="#111" stroke-width="0.5"/>
<line x1="410.84000000000003" y1="338.3" x2="410.84000000000003" y2="340.1" stroke="#111" stroke-width="0.5"/>
<line x1="415.02" y1="338.3" x2="415.02" y2="340.1" stroke="#111" stroke-width="0.5"/>
<line x1="419.2" y1="338.3" x2="419.2" y2="340.1" stroke="#111" stroke-width="0.5"/>
<line x1="423.38" y1="338.3" x2="423.38" y2="340.1" stroke="#111" stroke-width="0.5"/>
<line x1="427.56" y1="338.3" x2="427.56" y2="340.1" stroke="#111" stroke-width="0.5"/>
<line x1="431.74" y1="338.3" x2="431.74" y2="340.1" stroke="#111" stroke-width="0.5"/>
<line x1="435.92" y1="338.3" x2="435.92" y2="340.1" stroke="#111" stroke-width="0.5"/>
<line x1="440.1" y1="338.3" x2="440.1" y2="340.1" stroke="#111" stroke-width="0.5"/>
<line x1="444.28000000000003" y1="338.3" x2="444.28000000000003" y2="340.1" stroke="#111" stroke-width="0.5"/>
<line x1="448.46000000000004" y1="338.3" x2="448.46000000000004" y2="340.1" stroke="#111" stroke-width="0.5"/>
<line x1="452.64" y1="338.3" x2="452.64" y2="340.1" stroke="#111" stroke-width="0.5"/>
<line x1="456.82" y1="338.3" x2="456.82" y2="340.1" stroke="#111" stroke-width="0.5"/>
<line x1="461.0" y1="338.3" x2="461.0" y2="340.1" stroke="#111" stroke-width="0.5"/>
<line x1="465.18" y1="338.3" x2="465.18" y2="340.1" stroke="#111" stroke-width="0.5"/>
<line x1="469.36" y1="338.3" x2="469.36" y2="340.1" stroke="#111" stroke-width="0.5"/>
<line x1="473.54" y1="338.3" x2="473.54" y2="340.1" stroke="#111" stroke-width="0.5"/>
<line x1="477.72" y1="338.3" x2="477.72" y2="340.1" stroke="#111" stroke-width="0.5"/>
<line x1="481.9" y1="338.3" x2="481.9" y2="340.1" stroke="#111" stroke-width="0.5"/>
<line x1="486.08000000000004" y1="338.3" x2="486.08000000000004" y2="340.1" stroke="#111" stroke-width="0.5"/>
<line x1="490.26" y1="338.3" x2="490.26" y2="340.1" stroke="#111" stroke-width="0.5"/>
<line x1="494.44" y1="338.3" x2="494.44" y2="340.1" stroke="#111" stroke-width="0.5"/>
<text x="398.30" y="346.10" font-size="3.3" fill="#3a3a3a" text-anchor="middle" textLength="3.9" lengthAdjust="spacingAndGlyphs">1</text>
<text x="402.48" y="346.10" font-size="3.3" fill="#3a3a3a" text-anchor="middle" textLength="3.9" lengthAdjust="spacingAndGlyphs">2</text>
<text x="406.66" y="346.10" font-size="3.3" fill="#3a3a3a" text-anchor="middle" textLength="3.9" lengthAdjust="spacingAndGlyphs">3</text>
<text x="410.84" y="346.10" font-size="3.3" fill="#3a3a3a" text-anchor="middle" textLength="3.9" lengthAdjust="spacingAndGlyphs">4</text>
<text x="415.02" y="346.10" font-size="3.3" fill="#3a3a3a" text-anchor="middle" textLength="3.9" lengthAdjust="spacingAndGlyphs">5.1</text>
<text x="419.20" y="346.10" font-size="3.3" fill="#3a3a3a" text-anchor="middle" textLength="3.9" lengthAdjust="spacingAndGlyphs">5.2</text>
<text x="423.38" y="346.10" font-size="3.3" fill="#3a3a3a" text-anchor="middle" textLength="3.9" lengthAdjust="spacingAndGlyphs">5.3</text>
<text x="427.56" y="346.10" font-size="3.3" fill="#3a3a3a" text-anchor="middle" textLength="3.9" lengthAdjust="spacingAndGlyphs">7.1</text>
<text x="431.74" y="346.10" font-size="3.3" fill="#3a3a3a" text-anchor="middle" textLength="3.9" lengthAdjust="spacingAndGlyphs">7.2</text>
<text x="435.92" y="346.10" font-size="3.3" fill="#3a3a3a" text-anchor="middle" textLength="3.9" lengthAdjust="spacingAndGlyphs">8</text>
<text x="440.10" y="346.10" font-size="3.3" fill="#3a3a3a" text-anchor="middle" textLength="3.9" lengthAdjust="spacingAndGlyphs">9</text>
<text x="444.28" y="346.10" font-size="3.3" fill="#3a3a3a" text-anchor="middle" textLength="3.9" lengthAdjust="spacingAndGlyphs">11</text>
<text x="448.46" y="346.10" font-size="3.3" fill="#3a3a3a" text-anchor="middle" textLength="3.9" lengthAdjust="spacingAndGlyphs">12</text>
<text x="452.64" y="346.10" font-size="3.3" fill="#3a3a3a" text-anchor="middle" textLength="3.9" lengthAdjust="spacingAndGlyphs">13.1</text>
<text x="456.82" y="346.10" font-size="3.3" fill="#3a3a3a" text-anchor="middle" textLength="3.9" lengthAdjust="spacingAndGlyphs">13.2</text>
<text x="461.00" y="346.10" font-size="3.3" fill="#3a3a3a" text-anchor="middle" textLength="3.9" lengthAdjust="spacingAndGlyphs">13.6</text>
<text x="465.18" y="346.10" font-size="3.3" fill="#3a3a3a" text-anchor="middle" textLength="3.9" lengthAdjust="spacingAndGlyphs">14</text>
<text x="469.36" y="346.10" font-size="3.3" fill="#3a3a3a" text-anchor="middle" textLength="3.9" lengthAdjust="spacingAndGlyphs">16</text>
<text x="473.54" y="346.10" font-size="3.3" fill="#3a3a3a" text-anchor="middle" textLength="3.9" lengthAdjust="spacingAndGlyphs">17</text>
<text x="477.72" y="346.10" font-size="3.3" fill="#3a3a3a" text-anchor="middle" textLength="3.9" lengthAdjust="spacingAndGlyphs">18</text>
<text x="481.90" y="346.10" font-size="3.3" fill="#3a3a3a" text-anchor="middle" textLength="3.9" lengthAdjust="spacingAndGlyphs">20</text>
<text x="486.08" y="346.10" font-size="3.3" fill="#3a3a3a" text-anchor="middle" textLength="3.9" lengthAdjust="spacingAndGlyphs">21.3</text>
<text x="490.26" y="346.10" font-size="3.3" fill="#3a3a3a" text-anchor="middle" textLength="3.9" lengthAdjust="spacingAndGlyphs">22</text>
<text x="494.44" y="346.10" font-size="3.3" fill="#3a3a3a" text-anchor="middle" textLength="3.9" lengthAdjust="spacingAndGlyphs">23</text>
<text x="412.20" y="348.70" font-size="3.0" fill="#444" textLength="18.4" lengthAdjust="spacingAndGlyphs">a/b/c/d/e/f/g</text>
<text x="449.60" y="348.70" font-size="3.0" fill="#444" textLength="12.7" lengthAdjust="spacingAndGlyphs">a/b/c/d</text>
<text x="481.40" y="348.70" font-size="3.0" fill="#444" textLength="14.7" lengthAdjust="spacingAndGlyphs">b/c/a/b</text>
<text x="450.60" y="352.10" font-size="3.0" fill="#444" textLength="10.6" lengthAdjust="spacingAndGlyphs">a/b/c</text>
<text x="483.40" y="352.10" font-size="3.0" fill="#444" textLength="3.0" lengthAdjust="spacingAndGlyphs">a</text>
<path d="M192.80,372.30 A33.2,15.0 0 0 1 126.40,372.30 L126.40,382.30 A33.2,15.0 0 0 0 192.80,382.30 Z" fill="#576378" stroke="#576378" stroke-width="0.3"/>
<path d="M192.80,373.90 A33.2,15.0 0 0 1 126.40,373.90" fill="none" stroke="#66718a" stroke-width="1.0"/>
<path d="M159.6,372.3 L159.60,357.30 A33.2,15.0 0 0 1 161.34,357.32 Z" fill="#3ba535" stroke="#3ba535" stroke-width="0.3"/>
<path d="M159.6,372.3 L161.34,357.32 A33.2,15.0 0 0 1 176.70,359.44 Z" fill="#e8766b" stroke="#e8766b" stroke-width="0.3"/>
<path d="M159.6,372.3 L176.70,359.44 A33.2,15.0 0 1 1 159.60,357.30 Z" fill="#4a5568" stroke="#4a5568" stroke-width="0.3"/>
<path d="M193.30,433.20 A33.5,14.7 0 0 1 187.24,441.63 L187.24,451.63 A33.5,14.7 0 0 0 193.30,443.20 Z" fill="#dc5c52" stroke="#dc5c52" stroke-width="0.3"/>
<path d="M193.30,434.80 A33.5,14.7 0 0 1 187.24,443.23" fill="none" stroke="#e87468" stroke-width="1.0"/>
<path d="M187.24,441.63 A33.5,14.7 0 0 1 126.30,433.20 L126.30,443.20 A33.5,14.7 0 0 0 187.24,451.63 Z" fill="#576378" stroke="#576378" stroke-width="0.3"/>
<path d="M187.24,443.23 A33.5,14.7 0 0 1 126.30,434.80" fill="none" stroke="#66718a" stroke-width="1.0"/>
<path d="M159.8,433.2 L159.80,418.50 A33.5,14.7 0 0 1 173.96,419.88 Z" fill="#3ba535" stroke="#3ba535" stroke-width="0.3"/>
<path d="M159.8,433.2 L173.96,419.88 A33.5,14.7 0 0 1 187.24,441.63 Z" fill="#e8766b" stroke="#e8766b" stroke-width="0.3"/>
<path d="M159.8,433.2 L187.24,441.63 A33.5,14.7 0 1 1 153.41,418.77 Z" fill="#4a5568" stroke="#4a5568" stroke-width="0.3"/>
<path d="M159.8,433.2 L153.41,418.77 A33.5,14.7 0 0 1 159.80,418.50 Z" fill="#d0102c" stroke="#d0102c" stroke-width="0.3"/>
<path d="M335.60,372.90 A33.8,14.5 0 0 1 334.29,376.90 L334.29,386.40 A33.8,14.5 0 0 0 335.60,382.40 Z" fill="#56b34b" stroke="#56b34b" stroke-width="0.3"/>
<path d="M335.60,374.50 A33.8,14.5 0 0 1 334.29,378.50" fill="none" stroke="#6cc060" stroke-width="1.0"/>
<path d="M334.29,376.90 A33.8,14.5 0 0 1 270.92,378.80 L270.92,388.30 A33.8,14.5 0 0 0 334.29,386.40 Z" fill="#dc5c52" stroke="#dc5c52" stroke-width="0.3"/>
<path d="M334.29,378.50 A33.8,14.5 0 0 1 270.92,380.40" fill="none" stroke="#e87468" stroke-width="1.0"/>
<path d="M270.92,378.80 A33.8,14.5 0 0 1 268.00,372.90 L268.00,382.40 A33.8,14.5 0 0 0 270.92,388.30 Z" fill="#576378" stroke="#576378" stroke-width="0.3"/>
<path d="M270.92,380.40 A33.8,14.5 0 0 1 268.00,374.50" fill="none" stroke="#66718a" stroke-width="1.0"/>
<path d="M301.8,372.9 L301.80,358.40 A33.8,14.5 0 0 1 334.29,376.90 Z" fill="#3ba535" stroke="#3ba535" stroke-width="0.3"/>
<path d="M301.8,372.9 L334.29,376.90 A33.8,14.5 0 0 1 270.92,378.80 Z" fill="#e8766b" stroke="#e8766b" stroke-width="0.3"/>
<path d="M301.8,372.9 L270.92,378.80 A33.8,14.5 0 0 1 288.05,359.65 Z" fill="#4a5568" stroke="#4a5568" stroke-width="0.3"/>
<path d="M301.8,372.9 L288.05,359.65 A33.8,14.5 0 0 1 301.80,358.40 Z" fill="#d0102c" stroke="#d0102c" stroke-width="0.3"/>
<path d="M335.00,435.20 A33.6,15.2 0 0 1 301.40,450.40 L301.40,459.20 A33.6,15.2 0 0 0 335.00,444.00 Z" fill="#dc5c52" stroke="#dc5c52" stroke-width="0.3"/>
<path d="M335.00,436.80 A33.6,15.2 0 0 1 301.40,452.00" fill="none" stroke="#e87468" stroke-width="1.0"/>
<path d="M301.40,450.40 A33.6,15.2 0 0 1 279.80,446.84 L279.80,455.64 A33.6,15.2 0 0 0 301.40,459.20 Z" fill="#576378" stroke="#576378" stroke-width="0.3"/>
<path d="M301.40,452.00 A33.6,15.2 0 0 1 279.80,448.44" fill="none" stroke="#66718a" stroke-width="1.0"/>
<path d="M279.80,446.84 A33.6,15.2 0 0 1 267.80,435.20 L267.80,444.00 A33.6,15.2 0 0 0 279.80,455.64 Z" fill="#c4223a" stroke="#c4223a" stroke-width="0.3"/>
<path d="M301.4,435.2 L301.40,420.00 A33.6,15.2 0 0 1 323.00,423.56 Z" fill="#3ba535" stroke="#3ba535" stroke-width="0.3"/>
<path d="M301.4,435.2 L323.00,423.56 A33.6,15.2 0 0 1 301.40,450.40 Z" fill="#e8766b" stroke="#e8766b" stroke-width="0.3"/>
<path d="M301.4,435.2 L301.40,450.40 A33.6,15.2 0 0 1 279.80,446.84 Z" fill="#4a5568" stroke="#4a5568" stroke-width="0.3"/>
<path d="M301.4,435.2 L279.80,446.84 A33.6,15.2 0 0 1 301.40,420.00 Z" fill="#d0102c" stroke="#d0102c" stroke-width="0.3"/>
<path d="M480.30,373.20 A33.8,14.5 0 0 1 412.70,373.20 L412.70,384.20 A33.8,14.5 0 0 0 480.30,384.20 Z" fill="#56b34b" stroke="#56b34b" stroke-width="0.3"/>
<path d="M480.30,374.80 A33.8,14.5 0 0 1 412.70,374.80" fill="none" stroke="#6cc060" stroke-width="1.0"/>
<path d="M446.5,373.2 L446.50,358.70 A33.8,14.5 0 1 1 415.39,367.53 Z" fill="#3ba535" stroke="#3ba535" stroke-width="0.3"/>
<path d="M446.5,373.2 L415.39,367.53 A33.8,14.5 0 0 1 416.94,366.17 Z" fill="#e8766b" stroke="#e8766b" stroke-width="0.3"/>
<path d="M446.5,373.2 L416.94,366.17 A33.8,14.5 0 0 1 446.50,358.70 Z" fill="#4a5568" stroke="#4a5568" stroke-width="0.3"/>
<path d="M480.30,434.00 A33.8,14.5 0 0 1 412.70,434.00 L412.70,445.00 A33.8,14.5 0 0 0 480.30,445.00 Z" fill="#56b34b" stroke="#56b34b" stroke-width="0.3"/>
<path d="M480.30,435.60 A33.8,14.5 0 0 1 412.70,435.60" fill="none" stroke="#6cc060" stroke-width="1.0"/>
<path d="M446.5,434.0 L446.50,419.50 A33.8,14.5 0 1 1 424.77,422.89 Z" fill="#3ba535" stroke="#3ba535" stroke-width="0.3"/>
<path d="M446.5,434.0 L424.77,422.89 A33.8,14.5 0 0 1 429.60,421.44 Z" fill="#e8766b" stroke="#e8766b" stroke-width="0.3"/>
<path d="M446.5,434.0 L429.60,421.44 A33.8,14.5 0 0 1 441.80,419.64 Z" fill="#4a5568" stroke="#4a5568" stroke-width="0.3"/>
<path d="M446.5,434.0 L441.80,419.64 A33.8,14.5 0 0 1 446.50,419.50 Z" fill="#d0102c" stroke="#d0102c" stroke-width="0.3"/>
<rect x="114.5" y="471" width="101.19999999999999" height="77.39999999999998" fill="none" stroke="#111" stroke-width="1.1"/>
<line x1="112.7" y1="482" x2="114.5" y2="482" stroke="#111" stroke-width="0.6"/>
<text x="110.6" y="483.8" font-size="5.0" fill="#2a2a2a" text-anchor="end">800</text>
<line x1="112.7" y1="498.6" x2="114.5" y2="498.6" stroke="#111" stroke-width="0.6"/>
<text x="110.6" y="500.40000000000003" font-size="5.0" fill="#2a2a2a" text-anchor="end">600</text>
<line x1="112.7" y1="515" x2="114.5" y2="515" stroke="#111" stroke-width="0.6"/>
<text x="110.6" y="516.8" font-size="5.0" fill="#2a2a2a" text-anchor="end">400</text>
<line x1="112.7" y1="531.6" x2="114.5" y2="531.6" stroke="#111" stroke-width="0.6"/>
<text x="110.6" y="533.4" font-size="5.0" fill="#2a2a2a" text-anchor="end">200</text>
<line x1="112.7" y1="548.1" x2="114.5" y2="548.1" stroke="#111" stroke-width="0.6"/>
<text x="110.6" y="549.9" font-size="5.0" fill="#2a2a2a" text-anchor="end">0</text>
<line x1="113.2" y1="472.935" x2="114.5" y2="472.935" stroke="#333" stroke-width="0.45"/>
<line x1="113.2" y1="474.87" x2="114.5" y2="474.87" stroke="#333" stroke-width="0.45"/>
<line x1="113.2" y1="476.805" x2="114.5" y2="476.805" stroke="#333" stroke-width="0.45"/>
<line x1="113.2" y1="478.74" x2="114.5" y2="478.74" stroke="#333" stroke-width="0.45"/>
<line x1="113.2" y1="480.675" x2="114.5" y2="480.675" stroke="#333" stroke-width="0.45"/>
<line x1="113.2" y1="482.61" x2="114.5" y2="482.61" stroke="#333" stroke-width="0.45"/>
<line x1="113.2" y1="484.545" x2="114.5" y2="484.545" stroke="#333" stroke-width="0.45"/>
<line x1="113.2" y1="486.48" x2="114.5" y2="486.48" stroke="#333" stroke-width="0.45"/>
<line x1="113.2" y1="488.415" x2="114.5" y2="488.415" stroke="#333" stroke-width="0.45"/>
<line x1="113.2" y1="490.35" x2="114.5" y2="490.35" stroke="#333" stroke-width="0.45"/>
<line x1="113.2" y1="492.28499999999997" x2="114.5" y2="492.28499999999997" stroke="#333" stroke-width="0.45"/>
<line x1="113.2" y1="494.21999999999997" x2="114.5" y2="494.21999999999997" stroke="#333" stroke-width="0.45"/>
<line x1="113.2" y1="496.155" x2="114.5" y2="496.155" stroke="#333" stroke-width="0.45"/>
<line x1="113.2" y1="498.09" x2="114.5" y2="498.09" stroke="#333" stroke-width="0.45"/>
<line x1="113.2" y1="500.025" x2="114.5" y2="500.025" stroke="#333" stroke-width="0.45"/>
<line x1="113.2" y1="501.96" x2="114.5" y2="501.96" stroke="#333" stroke-width="0.45"/>
<line x1="113.2" y1="503.895" x2="114.5" y2="503.895" stroke="#333" stroke-width="0.45"/>
<line x1="113.2" y1="505.83" x2="114.5" y2="505.83" stroke="#333" stroke-width="0.45"/>
<line x1="113.2" y1="507.765" x2="114.5" y2="507.765" stroke="#333" stroke-width="0.45"/>
<line x1="113.2" y1="509.7" x2="114.5" y2="509.7" stroke="#333" stroke-width="0.45"/>
<line x1="113.2" y1="511.635" x2="114.5" y2="511.635" stroke="#333" stroke-width="0.45"/>
<line x1="113.2" y1="513.5699999999999" x2="114.5" y2="513.5699999999999" stroke="#333" stroke-width="0.45"/>
<line x1="113.2" y1="515.505" x2="114.5" y2="515.505" stroke="#333" stroke-width="0.45"/>
<line x1="113.2" y1="517.4399999999999" x2="114.5" y2="517.4399999999999" stroke="#333" stroke-width="0.45"/>
<line x1="113.2" y1="519.375" x2="114.5" y2="519.375" stroke="#333" stroke-width="0.45"/>
<line x1="113.2" y1="521.31" x2="114.5" y2="521.31" stroke="#333" stroke-width="0.45"/>
<line x1="113.2" y1="523.245" x2="114.5" y2="523.245" stroke="#333" stroke-width="0.45"/>
<line x1="113.2" y1="525.18" x2="114.5" y2="525.18" stroke="#333" stroke-width="0.45"/>
<line x1="113.2" y1="527.115" x2="114.5" y2="527.115" stroke="#333" stroke-width="0.45"/>
<line x1="113.2" y1="529.05" x2="114.5" y2="529.05" stroke="#333" stroke-width="0.45"/>
<line x1="113.2" y1="530.985" x2="114.5" y2="530.985" stroke="#333" stroke-width="0.45"/>
<line x1="113.2" y1="532.92" x2="114.5" y2="532.92" stroke="#333" stroke-width="0.45"/>
<line x1="113.2" y1="534.855" x2="114.5" y2="534.855" stroke="#333" stroke-width="0.45"/>
<line x1="113.2" y1="536.79" x2="114.5" y2="536.79" stroke="#333" stroke-width="0.45"/>
<line x1="113.2" y1="538.725" x2="114.5" y2="538.725" stroke="#333" stroke-width="0.45"/>
<line x1="113.2" y1="540.66" x2="114.5" y2="540.66" stroke="#333" stroke-width="0.45"/>
<line x1="113.2" y1="542.595" x2="114.5" y2="542.595" stroke="#333" stroke-width="0.45"/>
<line x1="113.2" y1="544.53" x2="114.5" y2="544.53" stroke="#333" stroke-width="0.45"/>
<line x1="113.2" y1="546.4649999999999" x2="114.5" y2="546.4649999999999" stroke="#333" stroke-width="0.45"/>
<line x1="121" y1="548.4" x2="121" y2="550.1999999999999" stroke="#111" stroke-width="0.6"/>
<text x="121" y="555.9" font-size="4.6" fill="#333" text-anchor="middle">−10<tspan font-size="2.8" dy="-1.8">3</tspan></text>
<line x1="137.4" y1="548.4" x2="137.4" y2="550.1999999999999" stroke="#111" stroke-width="0.6"/>
<text x="137.4" y="555.9" font-size="4.6" fill="#333" text-anchor="middle">0</text>
<line x1="154.7" y1="548.4" x2="154.7" y2="550.1999999999999" stroke="#111" stroke-width="0.6"/>
<text x="154.7" y="555.9" font-size="4.6" fill="#333" text-anchor="middle">10<tspan font-size="2.8" dy="-1.8">3</tspan></text>
<line x1="183" y1="548.4" x2="183" y2="550.1999999999999" stroke="#111" stroke-width="0.6"/>
<text x="183" y="555.9" font-size="4.6" fill="#333" text-anchor="middle">10<tspan font-size="2.8" dy="-1.8">4</tspan></text>
<line x1="206.4" y1="548.4" x2="206.4" y2="550.1999999999999" stroke="#111" stroke-width="0.6"/>
<text x="206.4" y="555.9" font-size="4.6" fill="#333" text-anchor="middle">10<tspan font-size="2.8" dy="-1.8">5</tspan></text>
<rect x="134.80" y="548.40" width="5.2" height="1.3" fill="#222"/>
<line x1="117.03" y1="548.4" x2="117.03" y2="549.5" stroke="#333" stroke-width="0.4"/>
<line x1="119.56" y1="548.4" x2="119.56" y2="549.5" stroke="#333" stroke-width="0.4"/>
<line x1="122.09" y1="548.4" x2="122.09" y2="549.5" stroke="#333" stroke-width="0.4"/>
<line x1="124.62" y1="548.4" x2="124.62" y2="549.5" stroke="#333" stroke-width="0.4"/>
<line x1="127.15" y1="548.4" x2="127.15" y2="549.5" stroke="#333" stroke-width="0.4"/>
<line x1="129.68" y1="548.4" x2="129.68" y2="549.5" stroke="#333" stroke-width="0.4"/>
<line x1="132.21" y1="548.4" x2="132.21" y2="549.5" stroke="#333" stroke-width="0.4"/>
<line x1="134.74" y1="548.4" x2="134.74" y2="549.5" stroke="#333" stroke-width="0.4"/>
<line x1="137.27" y1="548.4" x2="137.27" y2="549.5" stroke="#333" stroke-width="0.4"/>
<line x1="139.8" y1="548.4" x2="139.8" y2="549.5" stroke="#333" stroke-width="0.4"/>
<line x1="142.32999999999998" y1="548.4" x2="142.32999999999998" y2="549.5" stroke="#333" stroke-width="0.4"/>
<line x1="144.85999999999999" y1="548.4" x2="144.85999999999999" y2="549.5" stroke="#333" stroke-width="0.4"/>
<line x1="147.39" y1="548.4" x2="147.39" y2="549.5" stroke="#333" stroke-width="0.4"/>
<line x1="149.92" y1="548.4" x2="149.92" y2="549.5" stroke="#333" stroke-width="0.4"/>
<line x1="152.45" y1="548.4" x2="152.45" y2="549.5" stroke="#333" stroke-width="0.4"/>
<line x1="154.98" y1="548.4" x2="154.98" y2="549.5" stroke="#333" stroke-width="0.4"/>
<line x1="157.51" y1="548.4" x2="157.51" y2="549.5" stroke="#333" stroke-width="0.4"/>
<line x1="160.04" y1="548.4" x2="160.04" y2="549.5" stroke="#333" stroke-width="0.4"/>
<line x1="162.57" y1="548.4" x2="162.57" y2="549.5" stroke="#333" stroke-width="0.4"/>
<line x1="165.1" y1="548.4" x2="165.1" y2="549.5" stroke="#333" stroke-width="0.4"/>
<line x1="167.63" y1="548.4" x2="167.63" y2="549.5" stroke="#333" stroke-width="0.4"/>
<line x1="170.16" y1="548.4" x2="170.16" y2="549.5" stroke="#333" stroke-width="0.4"/>
<line x1="172.69" y1="548.4" x2="172.69" y2="549.5" stroke="#333" stroke-width="0.4"/>
<line x1="175.22" y1="548.4" x2="175.22" y2="549.5" stroke="#333" stroke-width="0.4"/>
<line x1="177.75" y1="548.4" x2="177.75" y2="549.5" stroke="#333" stroke-width="0.4"/>
<line x1="180.28" y1="548.4" x2="180.28" y2="549.5" stroke="#333" stroke-width="0.4"/>
<line x1="182.81" y1="548.4" x2="182.81" y2="549.5" stroke="#333" stroke-width="0.4"/>
<line x1="185.33999999999997" y1="548.4" x2="185.33999999999997" y2="549.5" stroke="#333" stroke-width="0.4"/>
<line x1="187.87" y1="548.4" x2="187.87" y2="549.5" stroke="#333" stroke-width="0.4"/>
<line x1="190.39999999999998" y1="548.4" x2="190.39999999999998" y2="549.5" stroke="#333" stroke-width="0.4"/>
<line x1="192.93" y1="548.4" x2="192.93" y2="549.5" stroke="#333" stroke-width="0.4"/>
<line x1="195.45999999999998" y1="548.4" x2="195.45999999999998" y2="549.5" stroke="#333" stroke-width="0.4"/>
<line x1="197.98999999999998" y1="548.4" x2="197.98999999999998" y2="549.5" stroke="#333" stroke-width="0.4"/>
<line x1="200.51999999999998" y1="548.4" x2="200.51999999999998" y2="549.5" stroke="#333" stroke-width="0.4"/>
<line x1="203.04999999999998" y1="548.4" x2="203.04999999999998" y2="549.5" stroke="#333" stroke-width="0.4"/>
<line x1="205.57999999999998" y1="548.4" x2="205.57999999999998" y2="549.5" stroke="#333" stroke-width="0.4"/>
<line x1="208.10999999999999" y1="548.4" x2="208.10999999999999" y2="549.5" stroke="#333" stroke-width="0.4"/>
<line x1="210.64" y1="548.4" x2="210.64" y2="549.5" stroke="#333" stroke-width="0.4"/>
<line x1="213.17" y1="548.4" x2="213.17" y2="549.5" stroke="#333" stroke-width="0.4"/>
<path d="M196.00,548.20 C196.20,547.00 196.82,544.87 197.20,541.00 C197.58,537.13 197.95,531.83 198.30,525.00 C198.65,518.17 198.97,507.50 199.30,500.00 C199.63,492.50 200.07,483.87 200.30,480.00 C200.53,476.13 200.53,476.47 200.70,476.80 C200.87,477.13 201.03,477.30 201.30,482.00 C201.57,486.70 201.93,497.83 202.30,505.00 C202.67,512.17 203.05,520.00 203.50,525.00 C203.95,530.00 204.33,532.25 205.00,535.00 C205.67,537.75 206.58,539.75 207.50,541.50 C208.42,543.25 209.50,544.48 210.50,545.50 C211.50,546.52 212.72,547.15 213.50,547.60 C214.28,548.05 214.92,548.10 215.20,548.20Z" fill="#8e95a2" stroke="#4a5260" stroke-width="0.5"/>
<path d="M170.00,548.20 C171.13,548.10 174.97,547.88 176.80,547.60 C178.63,547.32 179.97,547.27 181.00,546.50 C182.03,545.73 182.35,543.87 183.00,543.00 C183.65,542.13 184.23,541.05 184.90,541.30 C185.57,541.55 186.32,544.30 187.00,544.50 C187.68,544.70 188.33,543.58 189.00,542.50 C189.67,541.42 190.42,538.88 191.00,538.00 C191.58,537.12 191.97,536.70 192.50,537.20 C193.03,537.70 193.62,540.03 194.20,541.00 C194.78,541.97 195.45,543.83 196.00,543.00 C196.55,542.17 197.00,540.17 197.50,536.00 C198.00,531.83 198.53,522.83 199.00,518.00 C199.47,513.17 199.88,507.50 200.30,507.00 C200.72,506.50 201.08,511.17 201.50,515.00 C201.92,518.83 202.30,526.00 202.80,530.00 C203.30,534.00 203.80,536.75 204.50,539.00 C205.20,541.25 206.08,542.33 207.00,543.50 C207.92,544.67 209.00,545.35 210.00,546.00 C211.00,546.65 212.12,547.07 213.00,547.40 C213.88,547.73 214.92,547.90 215.30,548.00" fill="none" stroke="#c0304a" stroke-width="0.7"/>
<rect x="259" y="471.8" width="96.69999999999999" height="76.59999999999997" fill="none" stroke="#111" stroke-width="1.1"/>
<line x1="257.2" y1="484.2" x2="259" y2="484.2" stroke="#111" stroke-width="0.6"/>
<text x="254.9" y="486.0" font-size="5.0" fill="#2a2a2a" text-anchor="end">800</text>
<line x1="257.2" y1="500.2" x2="259" y2="500.2" stroke="#111" stroke-width="0.6"/>
<text x="254.9" y="502.0" font-size="5.0" fill="#2a2a2a" text-anchor="end">600</text>
<line x1="257.2" y1="516.1" x2="259" y2="516.1" stroke="#111" stroke-width="0.6"/>
<text x="254.9" y="517.9" font-size="5.0" fill="#2a2a2a" text-anchor="end">400</text>
<line x1="257.2" y1="532" x2="259" y2="532" stroke="#111" stroke-width="0.6"/>
<text x="254.9" y="533.8" font-size="5.0" fill="#2a2a2a" text-anchor="end">200</text>
<line x1="257.2" y1="547.8" x2="259" y2="547.8" stroke="#111" stroke-width="0.6"/>
<text x="254.9" y="549.5999999999999" font-size="5.0" fill="#2a2a2a" text-anchor="end">0</text>
<line x1="257.7" y1="473.71500000000003" x2="259" y2="473.71500000000003" stroke="#333" stroke-width="0.45"/>
<line x1="257.7" y1="475.63" x2="259" y2="475.63" stroke="#333" stroke-width="0.45"/>
<line x1="257.7" y1="477.545" x2="259" y2="477.545" stroke="#333" stroke-width="0.45"/>
<line x1="257.7" y1="479.46000000000004" x2="259" y2="479.46000000000004" stroke="#333" stroke-width="0.45"/>
<line x1="257.7" y1="481.375" x2="259" y2="481.375" stroke="#333" stroke-width="0.45"/>
<line x1="257.7" y1="483.29" x2="259" y2="483.29" stroke="#333" stroke-width="0.45"/>
<line x1="257.7" y1="485.205" x2="259" y2="485.205" stroke="#333" stroke-width="0.45"/>
<line x1="257.7" y1="487.12" x2="259" y2="487.12" stroke="#333" stroke-width="0.45"/>
<line x1="257.7" y1="489.035" x2="259" y2="489.035" stroke="#333" stroke-width="0.45"/>
<line x1="257.7" y1="490.95" x2="259" y2="490.95" stroke="#333" stroke-width="0.45"/>
<line x1="257.7" y1="492.865" x2="259" y2="492.865" stroke="#333" stroke-width="0.45"/>
<line x1="257.7" y1="494.78" x2="259" y2="494.78" stroke="#333" stroke-width="0.45"/>
<line x1="257.7" y1="496.695" x2="259" y2="496.695" stroke="#333" stroke-width="0.45"/>
<line x1="257.7" y1="498.61" x2="259" y2="498.61" stroke="#333" stroke-width="0.45"/>
<line x1="257.7" y1="500.525" x2="259" y2="500.525" stroke="#333" stroke-width="0.45"/>
<line x1="257.7" y1="502.44" x2="259" y2="502.44" stroke="#333" stroke-width="0.45"/>
<line x1="257.7" y1="504.355" x2="259" y2="504.355" stroke="#333" stroke-width="0.45"/>
<line x1="257.7" y1="506.27" x2="259" y2="506.27" stroke="#333" stroke-width="0.45"/>
<line x1="257.7" y1="508.185" x2="259" y2="508.185" stroke="#333" stroke-width="0.45"/>
<line x1="257.7" y1="510.1" x2="259" y2="510.1" stroke="#333" stroke-width="0.45"/>
<line x1="257.7" y1="512.015" x2="259" y2="512.015" stroke="#333" stroke-width="0.45"/>
<line x1="257.7" y1="513.93" x2="259" y2="513.93" stroke="#333" stroke-width="0.45"/>
<line x1="257.7" y1="515.845" x2="259" y2="515.845" stroke="#333" stroke-width="0.45"/>
<line x1="257.7" y1="517.76" x2="259" y2="517.76" stroke="#333" stroke-width="0.45"/>
<line x1="257.7" y1="519.675" x2="259" y2="519.675" stroke="#333" stroke-width="0.45"/>
<line x1="257.7" y1="521.59" x2="259" y2="521.59" stroke="#333" stroke-width="0.45"/>
<line x1="257.7" y1="523.505" x2="259" y2="523.505" stroke="#333" stroke-width="0.45"/>
<line x1="257.7" y1="525.42" x2="259" y2="525.42" stroke="#333" stroke-width="0.45"/>
<line x1="257.7" y1="527.335" x2="259" y2="527.335" stroke="#333" stroke-width="0.45"/>
<line x1="257.7" y1="529.25" x2="259" y2="529.25" stroke="#333" stroke-width="0.45"/>
<line x1="257.7" y1="531.165" x2="259" y2="531.165" stroke="#333" stroke-width="0.45"/>
<line x1="257.7" y1="533.0799999999999" x2="259" y2="533.0799999999999" stroke="#333" stroke-width="0.45"/>
<line x1="257.7" y1="534.995" x2="259" y2="534.995" stroke="#333" stroke-width="0.45"/>
<line x1="257.7" y1="536.91" x2="259" y2="536.91" stroke="#333" stroke-width="0.45"/>
<line x1="257.7" y1="538.8249999999999" x2="259" y2="538.8249999999999" stroke="#333" stroke-width="0.45"/>
<line x1="257.7" y1="540.74" x2="259" y2="540.74" stroke="#333" stroke-width="0.45"/>
<line x1="257.7" y1="542.655" x2="259" y2="542.655" stroke="#333" stroke-width="0.45"/>
<line x1="257.7" y1="544.5699999999999" x2="259" y2="544.5699999999999" stroke="#333" stroke-width="0.45"/>
<line x1="257.7" y1="546.485" x2="259" y2="546.485" stroke="#333" stroke-width="0.45"/>
<line x1="264.2" y1="548.4" x2="264.2" y2="550.1999999999999" stroke="#111" stroke-width="0.6"/>
<text x="264.2" y="555.9" font-size="4.6" fill="#333" text-anchor="middle">−10<tspan font-size="2.8" dy="-1.8">3</tspan></text>
<line x1="280.5" y1="548.4" x2="280.5" y2="550.1999999999999" stroke="#111" stroke-width="0.6"/>
<text x="280.5" y="555.9" font-size="4.6" fill="#333" text-anchor="middle">0</text>
<line x1="296.8" y1="548.4" x2="296.8" y2="550.1999999999999" stroke="#111" stroke-width="0.6"/>
<text x="296.8" y="555.9" font-size="4.6" fill="#333" text-anchor="middle">10<tspan font-size="2.8" dy="-1.8">3</tspan></text>
<line x1="323.3" y1="548.4" x2="323.3" y2="550.1999999999999" stroke="#111" stroke-width="0.6"/>
<text x="323.3" y="555.9" font-size="4.6" fill="#333" text-anchor="middle">10<tspan font-size="2.8" dy="-1.8">4</tspan></text>
<line x1="346" y1="548.4" x2="346" y2="550.1999999999999" stroke="#111" stroke-width="0.6"/>
<text x="346" y="555.9" font-size="4.6" fill="#333" text-anchor="middle">10<tspan font-size="2.8" dy="-1.8">5</tspan></text>
<rect x="277.90" y="548.40" width="5.2" height="1.3" fill="#222"/>
<line x1="261.4175" y1="548.4" x2="261.4175" y2="549.5" stroke="#333" stroke-width="0.4"/>
<line x1="263.835" y1="548.4" x2="263.835" y2="549.5" stroke="#333" stroke-width="0.4"/>
<line x1="266.2525" y1="548.4" x2="266.2525" y2="549.5" stroke="#333" stroke-width="0.4"/>
<line x1="268.67" y1="548.4" x2="268.67" y2="549.5" stroke="#333" stroke-width="0.4"/>
<line x1="271.0875" y1="548.4" x2="271.0875" y2="549.5" stroke="#333" stroke-width="0.4"/>
<line x1="273.505" y1="548.4" x2="273.505" y2="549.5" stroke="#333" stroke-width="0.4"/>
<line x1="275.9225" y1="548.4" x2="275.9225" y2="549.5" stroke="#333" stroke-width="0.4"/>
<line x1="278.34" y1="548.4" x2="278.34" y2="549.5" stroke="#333" stroke-width="0.4"/>
<line x1="280.7575" y1="548.4" x2="280.7575" y2="549.5" stroke="#333" stroke-width="0.4"/>
<line x1="283.175" y1="548.4" x2="283.175" y2="549.5" stroke="#333" stroke-width="0.4"/>
<line x1="285.5925" y1="548.4" x2="285.5925" y2="549.5" stroke="#333" stroke-width="0.4"/>
<line x1="288.01" y1="548.4" x2="288.01" y2="549.5" stroke="#333" stroke-width="0.4"/>
<line x1="290.4275" y1="548.4" x2="290.4275" y2="549.5" stroke="#333" stroke-width="0.4"/>
<line x1="292.84499999999997" y1="548.4" x2="292.84499999999997" y2="549.5" stroke="#333" stroke-width="0.4"/>
<line x1="295.2625" y1="548.4" x2="295.2625" y2="549.5" stroke="#333" stroke-width="0.4"/>
<line x1="297.68" y1="548.4" x2="297.68" y2="549.5" stroke="#333" stroke-width="0.4"/>
<line x1="300.09749999999997" y1="548.4" x2="300.09749999999997" y2="549.5" stroke="#333" stroke-width="0.4"/>
<line x1="302.515" y1="548.4" x2="302.515" y2="549.5" stroke="#333" stroke-width="0.4"/>
<line x1="304.9325" y1="548.4" x2="304.9325" y2="549.5" stroke="#333" stroke-width="0.4"/>
<line x1="307.35" y1="548.4" x2="307.35" y2="549.5" stroke="#333" stroke-width="0.4"/>
<line x1="309.7675" y1="548.4" x2="309.7675" y2="549.5" stroke="#333" stroke-width="0.4"/>
<line x1="312.185" y1="548.4" x2="312.185" y2="549.5" stroke="#333" stroke-width="0.4"/>
<line x1="314.6025" y1="548.4" x2="314.6025" y2="549.5" stroke="#333" stroke-width="0.4"/>
<line x1="317.02" y1="548.4" x2="317.02" y2="549.5" stroke="#333" stroke-width="0.4"/>
<line x1="319.4375" y1="548.4" x2="319.4375" y2="549.5" stroke="#333" stroke-width="0.4"/>
<line x1="321.855" y1="548.4" x2="321.855" y2="549.5" stroke="#333" stroke-width="0.4"/>
<line x1="324.2725" y1="548.4" x2="324.2725" y2="549.5" stroke="#333" stroke-width="0.4"/>
<line x1="326.69" y1="548.4" x2="326.69" y2="549.5" stroke="#333" stroke-width="0.4"/>
<line x1="329.10749999999996" y1="548.4" x2="329.10749999999996" y2="549.5" stroke="#333" stroke-width="0.4"/>
<line x1="331.525" y1="548.4" x2="331.525" y2="549.5" stroke="#333" stroke-width="0.4"/>
<line x1="333.9425" y1="548.4" x2="333.9425" y2="549.5" stroke="#333" stroke-width="0.4"/>
<line x1="336.36" y1="548.4" x2="336.36" y2="549.5" stroke="#333" stroke-width="0.4"/>
<line x1="338.7775" y1="548.4" x2="338.7775" y2="549.5" stroke="#333" stroke-width="0.4"/>
<line x1="341.195" y1="548.4" x2="341.195" y2="549.5" stroke="#333" stroke-width="0.4"/>
<line x1="343.61249999999995" y1="548.4" x2="343.61249999999995" y2="549.5" stroke="#333" stroke-width="0.4"/>
<line x1="346.03" y1="548.4" x2="346.03" y2="549.5" stroke="#333" stroke-width="0.4"/>
<line x1="348.4475" y1="548.4" x2="348.4475" y2="549.5" stroke="#333" stroke-width="0.4"/>
<line x1="350.865" y1="548.4" x2="350.865" y2="549.5" stroke="#333" stroke-width="0.4"/>
<line x1="353.2825" y1="548.4" x2="353.2825" y2="549.5" stroke="#333" stroke-width="0.4"/>
<path d="M326.50,548.20 C326.80,547.33 327.83,545.70 328.30,543.00 C328.77,540.30 328.97,536.88 329.30,532.00 C329.63,527.12 329.98,520.70 330.30,513.70 C330.62,506.70 330.93,496.17 331.20,490.00 C331.47,483.83 331.67,476.70 331.90,476.70 C332.13,476.70 332.33,483.83 332.60,490.00 C332.87,496.17 333.10,506.70 333.50,513.70 C333.90,520.70 334.48,527.40 335.00,532.00 C335.52,536.60 335.85,539.05 336.60,541.30 C337.35,543.55 338.33,544.45 339.50,545.50 C340.67,546.55 342.52,547.15 343.60,547.60 C344.68,548.05 345.60,548.10 346.00,548.20Z" fill="#8e95a2" stroke="#4a5260" stroke-width="0.5"/>
<path d="M282.50,548.20 C282.83,548.17 283.83,548.87 284.50,548.00 C285.17,547.13 285.82,544.80 286.50,543.00 C287.18,541.20 287.98,538.30 288.60,537.20 C289.22,536.10 289.63,538.27 290.20,536.40 C290.77,534.53 291.33,529.97 292.00,526.00 C292.67,522.03 293.53,513.27 294.20,512.60 C294.87,511.93 295.37,518.62 296.00,522.00 C296.63,525.38 297.33,533.57 298.00,532.90 C298.67,532.23 299.40,522.60 300.00,518.00 C300.60,513.40 301.02,504.97 301.60,505.30 C302.18,505.63 302.82,515.35 303.50,520.00 C304.18,524.65 305.00,532.20 305.70,533.20 C306.40,534.20 307.05,528.17 307.70,526.00 C308.35,523.83 308.97,519.87 309.60,520.20 C310.23,520.53 310.88,525.57 311.50,528.00 C312.12,530.43 312.72,533.97 313.30,534.80 C313.88,535.63 314.47,533.53 315.00,533.00 C315.53,532.47 315.95,530.93 316.50,531.60 C317.05,532.27 317.72,535.38 318.30,537.00 C318.88,538.62 319.38,540.80 320.00,541.30 C320.62,541.80 321.40,540.32 322.00,540.00 C322.60,539.68 323.10,538.98 323.60,539.40 C324.10,539.82 324.52,541.50 325.00,542.50 C325.48,543.50 326.00,544.98 326.50,545.40 C327.00,545.82 327.55,545.18 328.00,545.00 C328.45,544.82 328.70,544.22 329.20,544.30 C329.70,544.38 330.37,545.13 331.00,545.50 C331.63,545.87 332.17,546.15 333.00,546.50 C333.83,546.85 334.83,547.33 336.00,547.60 C337.17,547.87 339.33,548.02 340.00,548.10" fill="none" stroke="#c0304a" stroke-width="0.7"/>
<rect x="403.5" y="471.5" width="96.89999999999998" height="76.60000000000002" fill="none" stroke="#111" stroke-width="1.1"/>
<line x1="401.7" y1="474.7" x2="403.5" y2="474.7" stroke="#111" stroke-width="0.6"/>
<text x="399.90000000000003" y="476.5" font-size="5.0" fill="#2a2a2a" text-anchor="end">100</text>
<line x1="401.7" y1="489.4" x2="403.5" y2="489.4" stroke="#111" stroke-width="0.6"/>
<text x="399.90000000000003" y="491.2" font-size="5.0" fill="#2a2a2a" text-anchor="end">80</text>
<line x1="401.7" y1="504" x2="403.5" y2="504" stroke="#111" stroke-width="0.6"/>
<text x="399.90000000000003" y="505.8" font-size="5.0" fill="#2a2a2a" text-anchor="end">60</text>
<line x1="401.7" y1="518.6" x2="403.5" y2="518.6" stroke="#111" stroke-width="0.6"/>
<text x="399.90000000000003" y="520.4" font-size="5.0" fill="#2a2a2a" text-anchor="end">40</text>
<line x1="401.7" y1="533.2" x2="403.5" y2="533.2" stroke="#111" stroke-width="0.6"/>
<text x="399.90000000000003" y="535.0" font-size="5.0" fill="#2a2a2a" text-anchor="end">20</text>
<line x1="401.7" y1="547.8" x2="403.5" y2="547.8" stroke="#111" stroke-width="0.6"/>
<text x="399.90000000000003" y="549.5999999999999" font-size="5.0" fill="#2a2a2a" text-anchor="end">0</text>
<line x1="402.2" y1="473.415" x2="403.5" y2="473.415" stroke="#333" stroke-width="0.45"/>
<line x1="402.2" y1="475.33" x2="403.5" y2="475.33" stroke="#333" stroke-width="0.45"/>
<line x1="402.2" y1="477.245" x2="403.5" y2="477.245" stroke="#333" stroke-width="0.45"/>
<line x1="402.2" y1="479.16" x2="403.5" y2="479.16" stroke="#333" stroke-width="0.45"/>
<line x1="402.2" y1="481.075" x2="403.5" y2="481.075" stroke="#333" stroke-width="0.45"/>
<line x1="402.2" y1="482.99" x2="403.5" y2="482.99" stroke="#333" stroke-width="0.45"/>
<line x1="402.2" y1="484.90500000000003" x2="403.5" y2="484.90500000000003" stroke="#333" stroke-width="0.45"/>
<line x1="402.2" y1="486.82" x2="403.5" y2="486.82" stroke="#333" stroke-width="0.45"/>
<line x1="402.2" y1="488.735" x2="403.5" y2="488.735" stroke="#333" stroke-width="0.45"/>
<line x1="402.2" y1="490.65" x2="403.5" y2="490.65" stroke="#333" stroke-width="0.45"/>
<line x1="402.2" y1="492.565" x2="403.5" y2="492.565" stroke="#333" stroke-width="0.45"/>
<line x1="402.2" y1="494.48" x2="403.5" y2="494.48" stroke="#333" stroke-width="0.45"/>
<line x1="402.2" y1="496.395" x2="403.5" y2="496.395" stroke="#333" stroke-width="0.45"/>
<line x1="402.2" y1="498.31" x2="403.5" y2="498.31" stroke="#333" stroke-width="0.45"/>
<line x1="402.2" y1="500.225" x2="403.5" y2="500.225" stroke="#333" stroke-width="0.45"/>
<line x1="402.2" y1="502.14" x2="403.5" y2="502.14" stroke="#333" stroke-width="0.45"/>
<line x1="402.2" y1="504.055" x2="403.5" y2="504.055" stroke="#333" stroke-width="0.45"/>
<line x1="402.2" y1="505.97" x2="403.5" y2="505.97" stroke="#333" stroke-width="0.45"/>
<line x1="402.2" y1="507.885" x2="403.5" y2="507.885" stroke="#333" stroke-width="0.45"/>
<line x1="402.2" y1="509.8" x2="403.5" y2="509.8" stroke="#333" stroke-width="0.45"/>
<line x1="402.2" y1="511.71500000000003" x2="403.5" y2="511.71500000000003" stroke="#333" stroke-width="0.45"/>
<line x1="402.2" y1="513.63" x2="403.5" y2="513.63" stroke="#333" stroke-width="0.45"/>
<line x1="402.2" y1="515.5450000000001" x2="403.5" y2="515.5450000000001" stroke="#333" stroke-width="0.45"/>
<line x1="402.2" y1="517.46" x2="403.5" y2="517.46" stroke="#333" stroke-width="0.45"/>
<line x1="402.2" y1="519.375" x2="403.5" y2="519.375" stroke="#333" stroke-width="0.45"/>
<line x1="402.2" y1="521.29" x2="403.5" y2="521.29" stroke="#333" stroke-width="0.45"/>
<line x1="402.2" y1="523.205" x2="403.5" y2="523.205" stroke="#333" stroke-width="0.45"/>
<line x1="402.2" y1="525.12" x2="403.5" y2="525.12" stroke="#333" stroke-width="0.45"/>
<line x1="402.2" y1="527.035" x2="403.5" y2="527.035" stroke="#333" stroke-width="0.45"/>
<line x1="402.2" y1="528.95" x2="403.5" y2="528.95" stroke="#333" stroke-width="0.45"/>
<line x1="402.2" y1="530.865" x2="403.5" y2="530.865" stroke="#333" stroke-width="0.45"/>
<line x1="402.2" y1="532.78" x2="403.5" y2="532.78" stroke="#333" stroke-width="0.45"/>
<line x1="402.2" y1="534.695" x2="403.5" y2="534.695" stroke="#333" stroke-width="0.45"/>
<line x1="402.2" y1="536.61" x2="403.5" y2="536.61" stroke="#333" stroke-width="0.45"/>
<line x1="402.2" y1="538.525" x2="403.5" y2="538.525" stroke="#333" stroke-width="0.45"/>
<line x1="402.2" y1="540.44" x2="403.5" y2="540.44" stroke="#333" stroke-width="0.45"/>
<line x1="402.2" y1="542.355" x2="403.5" y2="542.355" stroke="#333" stroke-width="0.45"/>
<line x1="402.2" y1="544.27" x2="403.5" y2="544.27" stroke="#333" stroke-width="0.45"/>
<line x1="402.2" y1="546.1850000000001" x2="403.5" y2="546.1850000000001" stroke="#333" stroke-width="0.45"/>
<line x1="409.2" y1="548.1" x2="409.2" y2="549.9" stroke="#111" stroke-width="0.6"/>
<text x="409.2" y="555.6" font-size="4.6" fill="#333" text-anchor="middle">−10<tspan font-size="2.8" dy="-1.8">3</tspan></text>
<line x1="425.5" y1="548.1" x2="425.5" y2="549.9" stroke="#111" stroke-width="0.6"/>
<text x="425.5" y="555.6" font-size="4.6" fill="#333" text-anchor="middle">0</text>
<line x1="441.2" y1="548.1" x2="441.2" y2="549.9" stroke="#111" stroke-width="0.6"/>
<text x="441.2" y="555.6" font-size="4.6" fill="#333" text-anchor="middle">10<tspan font-size="2.8" dy="-1.8">3</tspan></text>
<line x1="467.6" y1="548.1" x2="467.6" y2="549.9" stroke="#111" stroke-width="0.6"/>
<text x="467.6" y="555.6" font-size="4.6" fill="#333" text-anchor="middle">10<tspan font-size="2.8" dy="-1.8">4</tspan></text>
<line x1="490.3" y1="548.1" x2="490.3" y2="549.9" stroke="#111" stroke-width="0.6"/>
<text x="490.3" y="555.6" font-size="4.6" fill="#333" text-anchor="middle">10<tspan font-size="2.8" dy="-1.8">5</tspan></text>
<rect x="422.90" y="548.10" width="5.2" height="1.3" fill="#222"/>
<line x1="405.9225" y1="548.1" x2="405.9225" y2="549.2" stroke="#333" stroke-width="0.4"/>
<line x1="408.345" y1="548.1" x2="408.345" y2="549.2" stroke="#333" stroke-width="0.4"/>
<line x1="410.7675" y1="548.1" x2="410.7675" y2="549.2" stroke="#333" stroke-width="0.4"/>
<line x1="413.19" y1="548.1" x2="413.19" y2="549.2" stroke="#333" stroke-width="0.4"/>
<line x1="415.6125" y1="548.1" x2="415.6125" y2="549.2" stroke="#333" stroke-width="0.4"/>
<line x1="418.03499999999997" y1="548.1" x2="418.03499999999997" y2="549.2" stroke="#333" stroke-width="0.4"/>
<line x1="420.4575" y1="548.1" x2="420.4575" y2="549.2" stroke="#333" stroke-width="0.4"/>
<line x1="422.88" y1="548.1" x2="422.88" y2="549.2" stroke="#333" stroke-width="0.4"/>
<line x1="425.3025" y1="548.1" x2="425.3025" y2="549.2" stroke="#333" stroke-width="0.4"/>
<line x1="427.725" y1="548.1" x2="427.725" y2="549.2" stroke="#333" stroke-width="0.4"/>
<line x1="430.1475" y1="548.1" x2="430.1475" y2="549.2" stroke="#333" stroke-width="0.4"/>
<line x1="432.57" y1="548.1" x2="432.57" y2="549.2" stroke="#333" stroke-width="0.4"/>
<line x1="434.9925" y1="548.1" x2="434.9925" y2="549.2" stroke="#333" stroke-width="0.4"/>
<line x1="437.41499999999996" y1="548.1" x2="437.41499999999996" y2="549.2" stroke="#333" stroke-width="0.4"/>
<line x1="439.8375" y1="548.1" x2="439.8375" y2="549.2" stroke="#333" stroke-width="0.4"/>
<line x1="442.26" y1="548.1" x2="442.26" y2="549.2" stroke="#333" stroke-width="0.4"/>
<line x1="444.6825" y1="548.1" x2="444.6825" y2="549.2" stroke="#333" stroke-width="0.4"/>
<line x1="447.105" y1="548.1" x2="447.105" y2="549.2" stroke="#333" stroke-width="0.4"/>
<line x1="449.5275" y1="548.1" x2="449.5275" y2="549.2" stroke="#333" stroke-width="0.4"/>
<line x1="451.95" y1="548.1" x2="451.95" y2="549.2" stroke="#333" stroke-width="0.4"/>
<line x1="454.3725" y1="548.1" x2="454.3725" y2="549.2" stroke="#333" stroke-width="0.4"/>
<line x1="456.79499999999996" y1="548.1" x2="456.79499999999996" y2="549.2" stroke="#333" stroke-width="0.4"/>
<line x1="459.2175" y1="548.1" x2="459.2175" y2="549.2" stroke="#333" stroke-width="0.4"/>
<line x1="461.64" y1="548.1" x2="461.64" y2="549.2" stroke="#333" stroke-width="0.4"/>
<line x1="464.0625" y1="548.1" x2="464.0625" y2="549.2" stroke="#333" stroke-width="0.4"/>
<line x1="466.485" y1="548.1" x2="466.485" y2="549.2" stroke="#333" stroke-width="0.4"/>
<line x1="468.90749999999997" y1="548.1" x2="468.90749999999997" y2="549.2" stroke="#333" stroke-width="0.4"/>
<line x1="471.33" y1="548.1" x2="471.33" y2="549.2" stroke="#333" stroke-width="0.4"/>
<line x1="473.7525" y1="548.1" x2="473.7525" y2="549.2" stroke="#333" stroke-width="0.4"/>
<line x1="476.17499999999995" y1="548.1" x2="476.17499999999995" y2="549.2" stroke="#333" stroke-width="0.4"/>
<line x1="478.59749999999997" y1="548.1" x2="478.59749999999997" y2="549.2" stroke="#333" stroke-width="0.4"/>
<line x1="481.02" y1="548.1" x2="481.02" y2="549.2" stroke="#333" stroke-width="0.4"/>
<line x1="483.4425" y1="548.1" x2="483.4425" y2="549.2" stroke="#333" stroke-width="0.4"/>
<line x1="485.865" y1="548.1" x2="485.865" y2="549.2" stroke="#333" stroke-width="0.4"/>
<line x1="488.28749999999997" y1="548.1" x2="488.28749999999997" y2="549.2" stroke="#333" stroke-width="0.4"/>
<line x1="490.71" y1="548.1" x2="490.71" y2="549.2" stroke="#333" stroke-width="0.4"/>
<line x1="493.1325" y1="548.1" x2="493.1325" y2="549.2" stroke="#333" stroke-width="0.4"/>
<line x1="495.55499999999995" y1="548.1" x2="495.55499999999995" y2="549.2" stroke="#333" stroke-width="0.4"/>
<line x1="497.97749999999996" y1="548.1" x2="497.97749999999996" y2="549.2" stroke="#333" stroke-width="0.4"/>
<path d="M484.80,548.00 C484.97,546.67 485.43,544.67 485.80,540.00 C486.17,535.33 486.58,527.50 487.00,520.00 C487.42,512.50 487.88,502.05 488.30,495.00 C488.72,487.95 489.12,477.70 489.50,477.70 C489.88,477.70 490.25,487.95 490.60,495.00 C490.95,502.05 491.20,513.50 491.60,520.00 C492.00,526.50 492.43,530.58 493.00,534.00 C493.57,537.42 494.25,538.67 495.00,540.50 C495.75,542.33 496.75,543.85 497.50,545.00 C498.25,546.15 499.05,546.90 499.50,547.40 C499.95,547.90 500.08,547.90 500.20,548.00Z" fill="#8e95a2" stroke="#4a5260" stroke-width="0.5"/>
<path d="M437.50,548.10 C437.72,548.02 438.22,549.28 438.80,547.60 C439.38,545.92 440.12,541.22 441.00,538.00 C441.88,534.78 443.05,528.02 444.10,528.30 C445.15,528.58 446.40,541.08 447.30,539.70 C448.20,538.32 448.82,527.03 449.50,520.00 C450.18,512.97 450.73,497.83 451.40,497.50 C452.07,497.17 452.83,512.32 453.50,518.00 C454.17,523.68 454.73,530.93 455.40,531.60 C456.07,532.27 456.82,524.50 457.50,522.00 C458.18,519.50 458.78,515.93 459.50,516.60 C460.22,517.27 461.05,523.02 461.80,526.00 C462.55,528.98 463.30,534.83 464.00,534.50 C464.70,534.17 465.35,527.07 466.00,524.00 C466.65,520.93 467.27,515.93 467.90,516.10 C468.53,516.27 469.17,522.15 469.80,525.00 C470.43,527.85 471.12,533.70 471.70,533.20 C472.28,532.70 472.77,525.47 473.30,522.00 C473.83,518.53 474.37,512.40 474.90,512.40 C475.43,512.40 475.97,518.95 476.50,522.00 C477.03,525.05 477.55,532.37 478.10,530.70 C478.65,529.03 479.25,517.75 479.80,512.00 C480.35,506.25 480.83,495.70 481.40,496.20 C481.97,496.70 482.58,509.52 483.20,515.00 C483.82,520.48 484.50,530.77 485.10,529.10 C485.70,527.43 486.25,512.43 486.80,505.00 C487.35,497.57 487.93,487.00 488.40,484.50 C488.87,482.00 489.23,484.92 489.60,490.00 C489.97,495.08 490.23,507.50 490.60,515.00 C490.97,522.50 491.23,530.75 491.80,535.00 C492.37,539.25 493.30,539.18 494.00,540.50 C494.70,541.82 495.25,541.98 496.00,542.90 C496.75,543.82 497.78,545.18 498.50,546.00 C499.22,546.82 500.00,547.50 500.30,547.80" fill="none" stroke="#c0304a" stroke-width="0.7"/>
<rect x="0.5" y="0.5" width="519" height="585" fill="none" stroke="#5a5a5a" stroke-width="1"/>
</svg>
</body></html>
